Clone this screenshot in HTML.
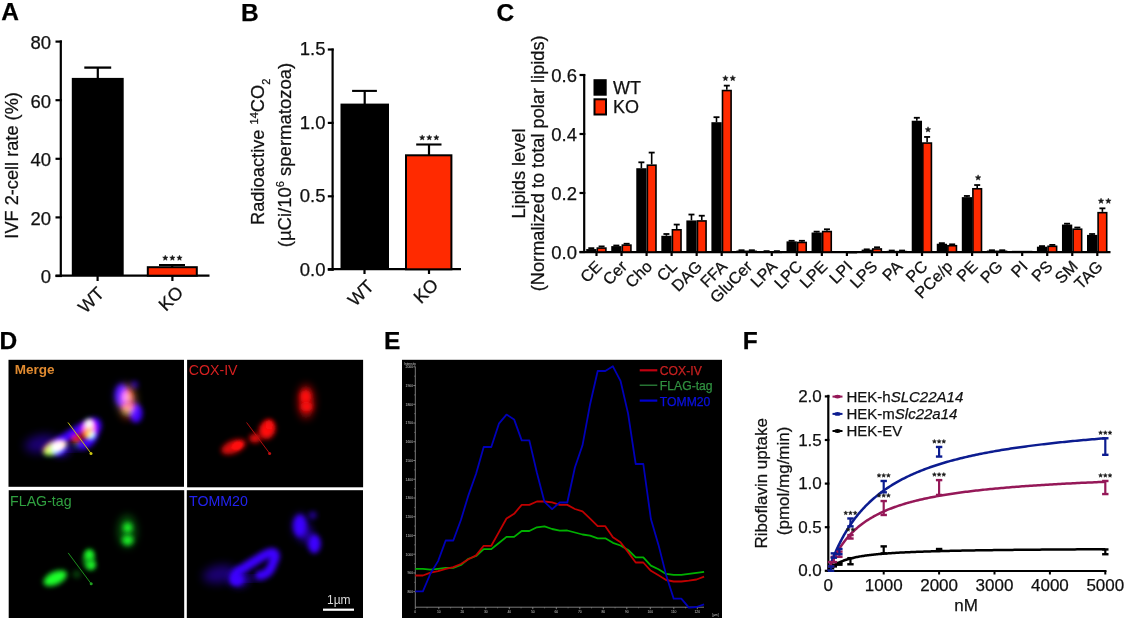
<!DOCTYPE html>
<html><head><meta charset="utf-8"><style>
html,body{margin:0;padding:0;background:#fff;width:1124px;height:618px;overflow:hidden}
svg{display:block;font-family:"Liberation Sans", sans-serif}
</style></head><body>
<svg width="1124" height="618" viewBox="0 0 1124 618">
<text x="1.3" y="20.3" font-size="24.5" text-anchor="start" font-weight="bold" fill="#000" stroke="#000" stroke-width="0.25">A</text>
<line x1="60.8" y1="40.4" x2="60.8" y2="276.8" stroke="#000" stroke-width="2.2" stroke-linecap="butt"/>
<line x1="55.5" y1="276.0" x2="61.9" y2="276.0" stroke="#000" stroke-width="2.2" stroke-linecap="butt"/>
<text x="51" y="283.4" font-size="18.5" text-anchor="end" font-weight="normal" fill="#111" stroke="#111" stroke-width="0.25">0</text>
<line x1="55.5" y1="217.4" x2="61.9" y2="217.4" stroke="#000" stroke-width="2.2" stroke-linecap="butt"/>
<text x="51" y="224.8" font-size="18.5" text-anchor="end" font-weight="normal" fill="#111" stroke="#111" stroke-width="0.25">20</text>
<line x1="55.5" y1="158.8" x2="61.9" y2="158.8" stroke="#000" stroke-width="2.2" stroke-linecap="butt"/>
<text x="51" y="166.20000000000002" font-size="18.5" text-anchor="end" font-weight="normal" fill="#111" stroke="#111" stroke-width="0.25">40</text>
<line x1="55.5" y1="100.19999999999999" x2="61.9" y2="100.19999999999999" stroke="#000" stroke-width="2.2" stroke-linecap="butt"/>
<text x="51" y="107.6" font-size="18.5" text-anchor="end" font-weight="normal" fill="#111" stroke="#111" stroke-width="0.25">60</text>
<line x1="55.5" y1="41.599999999999994" x2="61.9" y2="41.599999999999994" stroke="#000" stroke-width="2.2" stroke-linecap="butt"/>
<text x="51" y="48.99999999999999" font-size="18.5" text-anchor="end" font-weight="normal" fill="#111" stroke="#111" stroke-width="0.25">80</text>
<line x1="55.5" y1="275.6" x2="209.5" y2="275.6" stroke="#000" stroke-width="2.2" stroke-linecap="butt"/>
<rect x="71.8" y="77.9" width="51.9" height="198.1" fill="#000"/>
<line x1="97.8" y1="67.6" x2="97.8" y2="78.9" stroke="#000" stroke-width="2.2" stroke-linecap="butt"/>
<line x1="84.3" y1="67.6" x2="111.2" y2="67.6" stroke="#000" stroke-width="2.3" stroke-linecap="butt"/>
<rect x="147.8" y="267.2" width="49" height="8.5" fill="#ff2a00" stroke="#000" stroke-width="2"/>
<line x1="172.2" y1="265" x2="172.2" y2="267" stroke="#000" stroke-width="2.2" stroke-linecap="butt"/>
<line x1="159" y1="265" x2="185" y2="265" stroke="#000" stroke-width="2.0" stroke-linecap="butt"/>
<polygon points="165.30,255.20 166.04,256.98 167.96,257.13 166.50,258.39 166.95,260.27 165.30,259.26 163.65,260.27 164.10,258.39 162.64,257.13 164.56,256.98" fill="#1a1a1a" stroke="#1a1a1a" stroke-width="0.5" stroke-linejoin="round"/>
<polygon points="172.40,255.20 173.14,256.98 175.06,257.13 173.60,258.39 174.05,260.27 172.40,259.26 170.75,260.27 171.20,258.39 169.74,257.13 171.66,256.98" fill="#1a1a1a" stroke="#1a1a1a" stroke-width="0.5" stroke-linejoin="round"/>
<polygon points="179.50,255.20 180.24,256.98 182.16,257.13 180.70,258.39 181.15,260.27 179.50,259.26 177.85,260.27 178.30,258.39 176.84,257.13 178.76,256.98" fill="#1a1a1a" stroke="#1a1a1a" stroke-width="0.5" stroke-linejoin="round"/>
<line x1="97.6" y1="275.6" x2="97.6" y2="281" stroke="#000" stroke-width="2.2" stroke-linecap="butt"/>
<line x1="172.4" y1="275.6" x2="172.4" y2="281" stroke="#000" stroke-width="2.2" stroke-linecap="butt"/>
<text x="105.3" y="294.5" font-size="18" text-anchor="end" font-weight="normal" fill="#111" transform="rotate(-45 105.3 294.5)" stroke="#111" stroke-width="0.25">WT</text>
<text x="184.5" y="293.5" font-size="18" text-anchor="end" font-weight="normal" fill="#111" transform="rotate(-45 184.5 293.5)" stroke="#111" stroke-width="0.25">KO</text>
<text x="18.4" y="165.4" font-size="18.2" text-anchor="middle" font-weight="normal" fill="#111" transform="rotate(-90 18.4 165.4)" stroke="#111" stroke-width="0.25">IVF 2-cell rate (%)</text>
<text x="241.0" y="20.6" font-size="24.5" text-anchor="start" font-weight="bold" fill="#000" stroke="#000" stroke-width="0.25">B</text>
<line x1="332.6" y1="48.6" x2="332.6" y2="270.5" stroke="#000" stroke-width="2.2" stroke-linecap="butt"/>
<line x1="327.8" y1="269.7" x2="333.70000000000005" y2="269.7" stroke="#000" stroke-width="2.2" stroke-linecap="butt"/>
<text x="325.5" y="275.5" font-size="18.5" text-anchor="end" font-weight="normal" fill="#111" stroke="#111" stroke-width="0.25">0.0</text>
<line x1="327.8" y1="196.29999999999998" x2="333.70000000000005" y2="196.29999999999998" stroke="#000" stroke-width="2.2" stroke-linecap="butt"/>
<text x="325.5" y="202.1" font-size="18.5" text-anchor="end" font-weight="normal" fill="#111" stroke="#111" stroke-width="0.25">0.5</text>
<line x1="327.8" y1="122.89999999999998" x2="333.70000000000005" y2="122.89999999999998" stroke="#000" stroke-width="2.2" stroke-linecap="butt"/>
<text x="325.5" y="128.7" font-size="18.5" text-anchor="end" font-weight="normal" fill="#111" stroke="#111" stroke-width="0.25">1.0</text>
<line x1="327.8" y1="49.49999999999997" x2="333.70000000000005" y2="49.49999999999997" stroke="#000" stroke-width="2.2" stroke-linecap="butt"/>
<text x="325.5" y="55.29999999999997" font-size="18.5" text-anchor="end" font-weight="normal" fill="#111" stroke="#111" stroke-width="0.25">1.5</text>
<line x1="327.8" y1="269.2" x2="461" y2="269.2" stroke="#000" stroke-width="2.2" stroke-linecap="butt"/>
<rect x="340.5" y="103.6" width="48.5" height="166.1" fill="#000"/>
<line x1="364.7" y1="90.9" x2="364.7" y2="104.6" stroke="#000" stroke-width="2.2" stroke-linecap="butt"/>
<line x1="352.1" y1="90.9" x2="376.9" y2="90.9" stroke="#000" stroke-width="2.1" stroke-linecap="butt"/>
<rect x="406" y="155.3" width="45.4" height="114" fill="#ff2a00" stroke="#000" stroke-width="2"/>
<line x1="429" y1="144.5" x2="429" y2="155" stroke="#000" stroke-width="2.2" stroke-linecap="butt"/>
<line x1="416.2" y1="144.5" x2="441.5" y2="144.5" stroke="#000" stroke-width="2.1" stroke-linecap="butt"/>
<polygon points="422.20,134.90 422.94,136.68 424.86,136.83 423.40,138.09 423.85,139.97 422.20,138.96 420.55,139.97 421.00,138.09 419.54,136.83 421.46,136.68" fill="#1a1a1a" stroke="#1a1a1a" stroke-width="0.5" stroke-linejoin="round"/>
<polygon points="429.30,134.90 430.04,136.68 431.96,136.83 430.50,138.09 430.95,139.97 429.30,138.96 427.65,139.97 428.10,138.09 426.64,136.83 428.56,136.68" fill="#1a1a1a" stroke="#1a1a1a" stroke-width="0.5" stroke-linejoin="round"/>
<polygon points="436.40,134.90 437.14,136.68 439.06,136.83 437.60,138.09 438.05,139.97 436.40,138.96 434.75,139.97 435.20,138.09 433.74,136.83 435.66,136.68" fill="#1a1a1a" stroke="#1a1a1a" stroke-width="0.5" stroke-linejoin="round"/>
<line x1="364.5" y1="269.2" x2="364.5" y2="274" stroke="#000" stroke-width="2.2" stroke-linecap="butt"/>
<line x1="429" y1="269.2" x2="429" y2="274" stroke="#000" stroke-width="2.2" stroke-linecap="butt"/>
<text x="375" y="287.5" font-size="18" text-anchor="end" font-weight="normal" fill="#111" transform="rotate(-45 375 287.5)" stroke="#111" stroke-width="0.25">WT</text>
<text x="439.5" y="286" font-size="18" text-anchor="end" font-weight="normal" fill="#111" transform="rotate(-45 439.5 286)" stroke="#111" stroke-width="0.25">KO</text>
<text x="263.8" y="151.8" font-size="18.3" text-anchor="middle" fill="#111" stroke="#111" stroke-width="0.25" transform="rotate(-90 263.8 151.8)">Radioactive <tspan font-size="11" dy="-6">14</tspan><tspan dy="6">CO</tspan><tspan font-size="11" dy="6">2</tspan></text>
<text x="290.5" y="155" font-size="18.5" text-anchor="middle" fill="#111" stroke="#111" stroke-width="0.25" transform="rotate(-90 290.5 155)">(µCi/10<tspan font-size="11" dy="-7">6</tspan><tspan dy="7"> spermatozoa)</tspan></text>
<text x="496.6" y="20.6" font-size="24.5" text-anchor="start" font-weight="bold" fill="#000" stroke="#000" stroke-width="0.25">C</text>
<line x1="584.2" y1="74.2" x2="584.2" y2="252.8" stroke="#000" stroke-width="2.2" stroke-linecap="butt"/>
<line x1="579.5" y1="252.0" x2="585.3000000000001" y2="252.0" stroke="#000" stroke-width="2.2" stroke-linecap="butt"/>
<text x="577.0" y="258.7" font-size="18.5" text-anchor="end" font-weight="normal" fill="#111" stroke="#111" stroke-width="0.25">0.0</text>
<line x1="579.5" y1="193.0" x2="585.3000000000001" y2="193.0" stroke="#000" stroke-width="2.2" stroke-linecap="butt"/>
<text x="577.0" y="199.7" font-size="18.5" text-anchor="end" font-weight="normal" fill="#111" stroke="#111" stroke-width="0.25">0.2</text>
<line x1="579.5" y1="134.0" x2="585.3000000000001" y2="134.0" stroke="#000" stroke-width="2.2" stroke-linecap="butt"/>
<text x="577.0" y="140.7" font-size="18.5" text-anchor="end" font-weight="normal" fill="#111" stroke="#111" stroke-width="0.25">0.4</text>
<line x1="579.5" y1="75.0" x2="585.3000000000001" y2="75.0" stroke="#000" stroke-width="2.2" stroke-linecap="butt"/>
<text x="577.0" y="81.7" font-size="18.5" text-anchor="end" font-weight="normal" fill="#111" stroke="#111" stroke-width="0.25">0.6</text>
<line x1="579.5" y1="252.1" x2="1110.5" y2="252.1" stroke="#000" stroke-width="2.2" stroke-linecap="butt"/>
<rect x="586.2" y="249.05" width="10.3" height="2.95" fill="#000"/>
<line x1="591.3" y1="248.16500000000002" x2="591.3" y2="249.05" stroke="#000" stroke-width="1.6" stroke-linecap="butt"/>
<line x1="588.3" y1="248.16500000000002" x2="594.3" y2="248.16500000000002" stroke="#000" stroke-width="1.8" stroke-linecap="butt"/>
<rect x="597.3" y="248.08" width="8.6" height="3.92" fill="#ff2a00" stroke="#000" stroke-width="1.6"/>
<line x1="601.6" y1="246.395" x2="601.6" y2="247.28" stroke="#000" stroke-width="1.6" stroke-linecap="butt"/>
<line x1="598.6" y1="246.395" x2="604.6" y2="246.395" stroke="#000" stroke-width="1.8" stroke-linecap="butt"/>
<line x1="596.5" y1="252.1" x2="596.5" y2="256" stroke="#000" stroke-width="2.2" stroke-linecap="butt"/>
<text x="603.0" y="267.5" font-size="16.3" text-anchor="end" font-weight="normal" fill="#111" transform="rotate(-45 603.0 267.5)" stroke="#111" stroke-width="0.25">CE</text>
<rect x="611.24" y="246.1" width="10.3" height="5.9" fill="#000"/>
<line x1="616.3399999999999" y1="245.51" x2="616.3399999999999" y2="246.1" stroke="#000" stroke-width="1.6" stroke-linecap="butt"/>
<line x1="613.3399999999999" y1="245.51" x2="619.3399999999999" y2="245.51" stroke="#000" stroke-width="1.8" stroke-linecap="butt"/>
<rect x="622.3399999999999" y="245.13000000000002" width="8.6" height="6.87" fill="#ff2a00" stroke="#000" stroke-width="1.6"/>
<line x1="626.64" y1="243.74" x2="626.64" y2="244.33" stroke="#000" stroke-width="1.6" stroke-linecap="butt"/>
<line x1="623.64" y1="243.74" x2="629.64" y2="243.74" stroke="#000" stroke-width="1.8" stroke-linecap="butt"/>
<line x1="621.54" y1="252.1" x2="621.54" y2="256" stroke="#000" stroke-width="2.2" stroke-linecap="butt"/>
<text x="628.04" y="267.5" font-size="16.3" text-anchor="end" font-weight="normal" fill="#111" transform="rotate(-45 628.04 267.5)" stroke="#111" stroke-width="0.25">Cer</text>
<rect x="636.2800000000001" y="168.22000000000003" width="10.3" height="83.77999999999999" fill="#000"/>
<line x1="641.38" y1="162.32000000000002" x2="641.38" y2="168.22000000000003" stroke="#000" stroke-width="1.6" stroke-linecap="butt"/>
<line x1="638.38" y1="162.32000000000002" x2="644.38" y2="162.32000000000002" stroke="#000" stroke-width="1.8" stroke-linecap="butt"/>
<rect x="647.38" y="165.185" width="8.6" height="86.815" fill="#ff2a00" stroke="#000" stroke-width="1.6"/>
<line x1="651.6800000000001" y1="152.58499999999998" x2="651.6800000000001" y2="164.385" stroke="#000" stroke-width="1.6" stroke-linecap="butt"/>
<line x1="648.6800000000001" y1="152.58499999999998" x2="654.6800000000001" y2="152.58499999999998" stroke="#000" stroke-width="1.8" stroke-linecap="butt"/>
<line x1="646.58" y1="252.1" x2="646.58" y2="256" stroke="#000" stroke-width="2.2" stroke-linecap="butt"/>
<text x="653.08" y="267.5" font-size="16.3" text-anchor="end" font-weight="normal" fill="#111" transform="rotate(-45 653.08 267.5)" stroke="#111" stroke-width="0.25">Cho</text>
<rect x="661.32" y="235.775" width="10.3" height="16.225" fill="#000"/>
<line x1="666.42" y1="234.005" x2="666.42" y2="235.775" stroke="#000" stroke-width="1.6" stroke-linecap="butt"/>
<line x1="663.42" y1="234.005" x2="669.42" y2="234.005" stroke="#000" stroke-width="1.8" stroke-linecap="butt"/>
<rect x="672.42" y="229.79000000000002" width="8.6" height="22.21" fill="#ff2a00" stroke="#000" stroke-width="1.6"/>
<line x1="676.72" y1="224.565" x2="676.72" y2="228.99" stroke="#000" stroke-width="1.6" stroke-linecap="butt"/>
<line x1="673.72" y1="224.565" x2="679.72" y2="224.565" stroke="#000" stroke-width="1.8" stroke-linecap="butt"/>
<line x1="671.62" y1="252.1" x2="671.62" y2="256" stroke="#000" stroke-width="2.2" stroke-linecap="butt"/>
<text x="678.12" y="267.5" font-size="16.3" text-anchor="end" font-weight="normal" fill="#111" transform="rotate(-45 678.12 267.5)" stroke="#111" stroke-width="0.25">CL</text>
<rect x="686.36" y="220.435" width="10.3" height="31.564999999999998" fill="#000"/>
<line x1="691.4599999999999" y1="214.535" x2="691.4599999999999" y2="220.435" stroke="#000" stroke-width="1.6" stroke-linecap="butt"/>
<line x1="688.4599999999999" y1="214.535" x2="694.4599999999999" y2="214.535" stroke="#000" stroke-width="1.8" stroke-linecap="butt"/>
<rect x="697.4599999999999" y="220.94" width="8.6" height="31.06" fill="#ff2a00" stroke="#000" stroke-width="1.6"/>
<line x1="701.76" y1="215.71499999999997" x2="701.76" y2="220.14" stroke="#000" stroke-width="1.6" stroke-linecap="butt"/>
<line x1="698.76" y1="215.71499999999997" x2="704.76" y2="215.71499999999997" stroke="#000" stroke-width="1.8" stroke-linecap="butt"/>
<line x1="696.66" y1="252.1" x2="696.66" y2="256" stroke="#000" stroke-width="2.2" stroke-linecap="butt"/>
<text x="703.16" y="267.5" font-size="16.3" text-anchor="end" font-weight="normal" fill="#111" transform="rotate(-45 703.16 267.5)" stroke="#111" stroke-width="0.25">DAG</text>
<rect x="711.4000000000001" y="122.19999999999999" width="10.3" height="129.8" fill="#000"/>
<line x1="716.5" y1="117.18499999999999" x2="716.5" y2="122.19999999999999" stroke="#000" stroke-width="1.6" stroke-linecap="butt"/>
<line x1="713.5" y1="117.18499999999999" x2="719.5" y2="117.18499999999999" stroke="#000" stroke-width="1.8" stroke-linecap="butt"/>
<rect x="722.5" y="90.55" width="8.6" height="161.45" fill="#ff2a00" stroke="#000" stroke-width="1.6"/>
<line x1="726.8000000000001" y1="85.62" x2="726.8000000000001" y2="89.75" stroke="#000" stroke-width="1.6" stroke-linecap="butt"/>
<line x1="723.8000000000001" y1="85.62" x2="729.8000000000001" y2="85.62" stroke="#000" stroke-width="1.8" stroke-linecap="butt"/>
<polygon points="725.45,75.42 726.22,77.26 728.21,77.42 726.69,78.72 727.15,80.67 725.45,79.63 723.75,80.67 724.21,78.72 722.69,77.42 724.68,77.26" fill="#1a1a1a" stroke="#1a1a1a" stroke-width="0.5" stroke-linejoin="round"/>
<polygon points="732.75,75.42 733.52,77.26 735.51,77.42 733.99,78.72 734.45,80.67 732.75,79.63 731.05,80.67 731.51,78.72 729.99,77.42 731.98,77.26" fill="#1a1a1a" stroke="#1a1a1a" stroke-width="0.5" stroke-linejoin="round"/>
<line x1="721.7" y1="252.1" x2="721.7" y2="256" stroke="#000" stroke-width="2.2" stroke-linecap="butt"/>
<text x="728.2" y="267.5" font-size="16.3" text-anchor="end" font-weight="normal" fill="#111" transform="rotate(-45 728.2 267.5)" stroke="#111" stroke-width="0.25">FFA</text>
<rect x="736.44" y="250.525" width="10.3" height="1.475" fill="#000"/>
<line x1="741.54" y1="250.23000000000002" x2="741.54" y2="250.525" stroke="#000" stroke-width="1.6" stroke-linecap="butt"/>
<line x1="738.54" y1="250.23000000000002" x2="744.54" y2="250.23000000000002" stroke="#000" stroke-width="1.8" stroke-linecap="butt"/>
<rect x="747.54" y="251.32500000000002" width="8.6" height="0.675" fill="#ff2a00" stroke="#000" stroke-width="1.6"/>
<line x1="751.84" y1="250.23000000000002" x2="751.84" y2="250.525" stroke="#000" stroke-width="1.6" stroke-linecap="butt"/>
<line x1="748.84" y1="250.23000000000002" x2="754.84" y2="250.23000000000002" stroke="#000" stroke-width="1.8" stroke-linecap="butt"/>
<line x1="746.74" y1="252.1" x2="746.74" y2="256" stroke="#000" stroke-width="2.2" stroke-linecap="butt"/>
<text x="753.24" y="267.5" font-size="16.3" text-anchor="end" font-weight="normal" fill="#111" transform="rotate(-45 753.24 267.5)" stroke="#111" stroke-width="0.25">GluCer</text>
<rect x="761.48" y="251.41" width="10.3" height="0.59" fill="#000"/>
<line x1="766.5799999999999" y1="251.115" x2="766.5799999999999" y2="251.41" stroke="#000" stroke-width="1.6" stroke-linecap="butt"/>
<line x1="763.5799999999999" y1="251.115" x2="769.5799999999999" y2="251.115" stroke="#000" stroke-width="1.8" stroke-linecap="butt"/>
<rect x="772.5799999999999" y="252.21" width="8.6" height="0.1" fill="#ff2a00" stroke="#000" stroke-width="1.6"/>
<line x1="776.88" y1="251.115" x2="776.88" y2="251.41" stroke="#000" stroke-width="1.6" stroke-linecap="butt"/>
<line x1="773.88" y1="251.115" x2="779.88" y2="251.115" stroke="#000" stroke-width="1.8" stroke-linecap="butt"/>
<line x1="771.78" y1="252.1" x2="771.78" y2="256" stroke="#000" stroke-width="2.2" stroke-linecap="butt"/>
<text x="778.28" y="267.5" font-size="16.3" text-anchor="end" font-weight="normal" fill="#111" transform="rotate(-45 778.28 267.5)" stroke="#111" stroke-width="0.25">LPA</text>
<rect x="786.52" y="241.38" width="10.3" height="10.62" fill="#000"/>
<line x1="791.6199999999999" y1="240.79" x2="791.6199999999999" y2="241.38" stroke="#000" stroke-width="1.6" stroke-linecap="butt"/>
<line x1="788.6199999999999" y1="240.79" x2="794.6199999999999" y2="240.79" stroke="#000" stroke-width="1.8" stroke-linecap="butt"/>
<rect x="797.6199999999999" y="242.47500000000002" width="8.6" height="9.525" fill="#ff2a00" stroke="#000" stroke-width="1.6"/>
<line x1="801.92" y1="240.79000000000002" x2="801.92" y2="241.675" stroke="#000" stroke-width="1.6" stroke-linecap="butt"/>
<line x1="798.92" y1="240.79000000000002" x2="804.92" y2="240.79000000000002" stroke="#000" stroke-width="1.8" stroke-linecap="butt"/>
<line x1="796.8199999999999" y1="252.1" x2="796.8199999999999" y2="256" stroke="#000" stroke-width="2.2" stroke-linecap="butt"/>
<text x="803.3199999999999" y="267.5" font-size="16.3" text-anchor="end" font-weight="normal" fill="#111" transform="rotate(-45 803.3199999999999 267.5)" stroke="#111" stroke-width="0.25">LPC</text>
<rect x="811.5600000000001" y="232.53" width="10.3" height="19.470000000000002" fill="#000"/>
<line x1="816.66" y1="231.645" x2="816.66" y2="232.53" stroke="#000" stroke-width="1.6" stroke-linecap="butt"/>
<line x1="813.66" y1="231.645" x2="819.66" y2="231.645" stroke="#000" stroke-width="1.8" stroke-linecap="butt"/>
<rect x="822.66" y="231.56" width="8.6" height="20.439999999999998" fill="#ff2a00" stroke="#000" stroke-width="1.6"/>
<line x1="826.96" y1="229.285" x2="826.96" y2="230.76" stroke="#000" stroke-width="1.6" stroke-linecap="butt"/>
<line x1="823.96" y1="229.285" x2="829.96" y2="229.285" stroke="#000" stroke-width="1.8" stroke-linecap="butt"/>
<line x1="821.86" y1="252.1" x2="821.86" y2="256" stroke="#000" stroke-width="2.2" stroke-linecap="butt"/>
<text x="828.36" y="267.5" font-size="16.3" text-anchor="end" font-weight="normal" fill="#111" transform="rotate(-45 828.36 267.5)" stroke="#111" stroke-width="0.25">LPE</text>
<rect x="836.6" y="251.705" width="10.3" height="0.295" fill="#000"/>
<rect x="847.6999999999999" y="252.50500000000002" width="8.6" height="0.1" fill="#ff2a00" stroke="#000" stroke-width="1.6"/>
<line x1="846.9" y1="252.1" x2="846.9" y2="256" stroke="#000" stroke-width="2.2" stroke-linecap="butt"/>
<text x="853.4" y="267.5" font-size="16.3" text-anchor="end" font-weight="normal" fill="#111" transform="rotate(-45 853.4 267.5)" stroke="#111" stroke-width="0.25">LPI</text>
<rect x="861.6400000000001" y="249.64" width="10.3" height="2.36" fill="#000"/>
<line x1="866.74" y1="249.345" x2="866.74" y2="249.64" stroke="#000" stroke-width="1.6" stroke-linecap="butt"/>
<line x1="863.74" y1="249.345" x2="869.74" y2="249.345" stroke="#000" stroke-width="1.8" stroke-linecap="butt"/>
<rect x="872.74" y="248.965" width="8.6" height="3.035" fill="#ff2a00" stroke="#000" stroke-width="1.6"/>
<line x1="877.0400000000001" y1="247.28" x2="877.0400000000001" y2="248.165" stroke="#000" stroke-width="1.6" stroke-linecap="butt"/>
<line x1="874.0400000000001" y1="247.28" x2="880.0400000000001" y2="247.28" stroke="#000" stroke-width="1.8" stroke-linecap="butt"/>
<line x1="871.94" y1="252.1" x2="871.94" y2="256" stroke="#000" stroke-width="2.2" stroke-linecap="butt"/>
<text x="878.44" y="267.5" font-size="16.3" text-anchor="end" font-weight="normal" fill="#111" transform="rotate(-45 878.44 267.5)" stroke="#111" stroke-width="0.25">LPS</text>
<rect x="886.6800000000001" y="250.82" width="10.3" height="1.18" fill="#000"/>
<line x1="891.78" y1="250.525" x2="891.78" y2="250.82" stroke="#000" stroke-width="1.6" stroke-linecap="butt"/>
<line x1="888.78" y1="250.525" x2="894.78" y2="250.525" stroke="#000" stroke-width="1.8" stroke-linecap="butt"/>
<rect x="897.78" y="251.62" width="8.6" height="0.3799999999999999" fill="#ff2a00" stroke="#000" stroke-width="1.6"/>
<line x1="902.08" y1="250.525" x2="902.08" y2="250.82" stroke="#000" stroke-width="1.6" stroke-linecap="butt"/>
<line x1="899.08" y1="250.525" x2="905.08" y2="250.525" stroke="#000" stroke-width="1.8" stroke-linecap="butt"/>
<line x1="896.98" y1="252.1" x2="896.98" y2="256" stroke="#000" stroke-width="2.2" stroke-linecap="butt"/>
<text x="903.48" y="267.5" font-size="16.3" text-anchor="end" font-weight="normal" fill="#111" transform="rotate(-45 903.48 267.5)" stroke="#111" stroke-width="0.25">PA</text>
<rect x="911.72" y="120.725" width="10.3" height="131.275" fill="#000"/>
<line x1="916.8199999999999" y1="117.77499999999999" x2="916.8199999999999" y2="120.725" stroke="#000" stroke-width="1.6" stroke-linecap="butt"/>
<line x1="913.8199999999999" y1="117.77499999999999" x2="919.8199999999999" y2="117.77499999999999" stroke="#000" stroke-width="1.8" stroke-linecap="butt"/>
<rect x="922.8199999999999" y="143.06" width="8.6" height="108.94" fill="#ff2a00" stroke="#000" stroke-width="1.6"/>
<line x1="927.12" y1="136.95" x2="927.12" y2="142.26" stroke="#000" stroke-width="1.6" stroke-linecap="butt"/>
<line x1="924.12" y1="136.95" x2="930.12" y2="136.95" stroke="#000" stroke-width="1.8" stroke-linecap="butt"/>
<polygon points="928.02,126.75 928.79,128.59 930.78,128.75 929.26,130.05 929.72,132.00 928.02,130.95 926.32,132.00 926.78,130.05 925.26,128.75 927.25,128.59" fill="#1a1a1a" stroke="#1a1a1a" stroke-width="0.5" stroke-linejoin="round"/>
<line x1="922.02" y1="252.1" x2="922.02" y2="256" stroke="#000" stroke-width="2.2" stroke-linecap="butt"/>
<text x="928.52" y="267.5" font-size="16.3" text-anchor="end" font-weight="normal" fill="#111" transform="rotate(-45 928.52 267.5)" stroke="#111" stroke-width="0.25">PC</text>
<rect x="936.76" y="243.74" width="10.3" height="8.26" fill="#000"/>
<line x1="941.8599999999999" y1="243.15" x2="941.8599999999999" y2="243.74" stroke="#000" stroke-width="1.6" stroke-linecap="butt"/>
<line x1="938.8599999999999" y1="243.15" x2="944.8599999999999" y2="243.15" stroke="#000" stroke-width="1.8" stroke-linecap="butt"/>
<rect x="947.8599999999999" y="245.72" width="8.6" height="6.28" fill="#ff2a00" stroke="#000" stroke-width="1.6"/>
<line x1="952.16" y1="244.32999999999998" x2="952.16" y2="244.92" stroke="#000" stroke-width="1.6" stroke-linecap="butt"/>
<line x1="949.16" y1="244.32999999999998" x2="955.16" y2="244.32999999999998" stroke="#000" stroke-width="1.8" stroke-linecap="butt"/>
<line x1="947.06" y1="252.1" x2="947.06" y2="256" stroke="#000" stroke-width="2.2" stroke-linecap="butt"/>
<text x="953.56" y="267.5" font-size="16.3" text-anchor="end" font-weight="normal" fill="#111" transform="rotate(-45 953.56 267.5)" stroke="#111" stroke-width="0.25">PCe/p</text>
<rect x="961.8" y="197.13" width="10.3" height="54.87" fill="#000"/>
<line x1="966.8999999999999" y1="195.95" x2="966.8999999999999" y2="197.13" stroke="#000" stroke-width="1.6" stroke-linecap="butt"/>
<line x1="963.8999999999999" y1="195.95" x2="969.8999999999999" y2="195.95" stroke="#000" stroke-width="1.8" stroke-linecap="butt"/>
<rect x="972.8999999999999" y="188.78500000000003" width="8.6" height="63.215" fill="#ff2a00" stroke="#000" stroke-width="1.6"/>
<line x1="977.1999999999999" y1="185.03500000000003" x2="977.1999999999999" y2="187.985" stroke="#000" stroke-width="1.6" stroke-linecap="butt"/>
<line x1="974.1999999999999" y1="185.03500000000003" x2="980.1999999999999" y2="185.03500000000003" stroke="#000" stroke-width="1.8" stroke-linecap="butt"/>
<polygon points="978.10,174.84 978.87,176.68 980.86,176.84 979.34,178.14 979.80,180.08 978.10,179.04 976.40,180.08 976.86,178.14 975.34,176.84 977.33,176.68" fill="#1a1a1a" stroke="#1a1a1a" stroke-width="0.5" stroke-linejoin="round"/>
<line x1="972.0999999999999" y1="252.1" x2="972.0999999999999" y2="256" stroke="#000" stroke-width="2.2" stroke-linecap="butt"/>
<text x="978.5999999999999" y="267.5" font-size="16.3" text-anchor="end" font-weight="normal" fill="#111" transform="rotate(-45 978.5999999999999 267.5)" stroke="#111" stroke-width="0.25">PE</text>
<rect x="986.84" y="250.525" width="10.3" height="1.475" fill="#000"/>
<line x1="991.9399999999999" y1="250.23000000000002" x2="991.9399999999999" y2="250.525" stroke="#000" stroke-width="1.6" stroke-linecap="butt"/>
<line x1="988.9399999999999" y1="250.23000000000002" x2="994.9399999999999" y2="250.23000000000002" stroke="#000" stroke-width="1.8" stroke-linecap="butt"/>
<rect x="997.9399999999999" y="251.32500000000002" width="8.6" height="0.675" fill="#ff2a00" stroke="#000" stroke-width="1.6"/>
<line x1="1002.24" y1="250.23000000000002" x2="1002.24" y2="250.525" stroke="#000" stroke-width="1.6" stroke-linecap="butt"/>
<line x1="999.24" y1="250.23000000000002" x2="1005.24" y2="250.23000000000002" stroke="#000" stroke-width="1.8" stroke-linecap="butt"/>
<line x1="997.14" y1="252.1" x2="997.14" y2="256" stroke="#000" stroke-width="2.2" stroke-linecap="butt"/>
<text x="1003.64" y="267.5" font-size="16.3" text-anchor="end" font-weight="normal" fill="#111" transform="rotate(-45 1003.64 267.5)" stroke="#111" stroke-width="0.25">PG</text>
<rect x="1011.8800000000001" y="250.82" width="10.3" height="1.18" fill="#000"/>
<rect x="1022.98" y="251.62" width="8.6" height="0.3799999999999999" fill="#ff2a00" stroke="#000" stroke-width="1.6"/>
<line x1="1022.1800000000001" y1="252.1" x2="1022.1800000000001" y2="256" stroke="#000" stroke-width="2.2" stroke-linecap="butt"/>
<text x="1028.68" y="267.5" font-size="16.3" text-anchor="end" font-weight="normal" fill="#111" transform="rotate(-45 1028.68 267.5)" stroke="#111" stroke-width="0.25">PI</text>
<rect x="1036.92" y="246.69" width="10.3" height="5.31" fill="#000"/>
<line x1="1042.02" y1="246.1" x2="1042.02" y2="246.69" stroke="#000" stroke-width="1.6" stroke-linecap="butt"/>
<line x1="1039.02" y1="246.1" x2="1045.02" y2="246.1" stroke="#000" stroke-width="1.8" stroke-linecap="butt"/>
<rect x="1048.02" y="246.31" width="8.6" height="5.6899999999999995" fill="#ff2a00" stroke="#000" stroke-width="1.6"/>
<line x1="1052.32" y1="244.92" x2="1052.32" y2="245.51" stroke="#000" stroke-width="1.6" stroke-linecap="butt"/>
<line x1="1049.32" y1="244.92" x2="1055.32" y2="244.92" stroke="#000" stroke-width="1.8" stroke-linecap="butt"/>
<line x1="1047.22" y1="252.1" x2="1047.22" y2="256" stroke="#000" stroke-width="2.2" stroke-linecap="butt"/>
<text x="1053.72" y="267.5" font-size="16.3" text-anchor="end" font-weight="normal" fill="#111" transform="rotate(-45 1053.72 267.5)" stroke="#111" stroke-width="0.25">PS</text>
<rect x="1061.96" y="224.565" width="10.3" height="27.435" fill="#000"/>
<line x1="1067.06" y1="223.68" x2="1067.06" y2="224.565" stroke="#000" stroke-width="1.6" stroke-linecap="butt"/>
<line x1="1064.06" y1="223.68" x2="1070.06" y2="223.68" stroke="#000" stroke-width="1.8" stroke-linecap="butt"/>
<rect x="1073.06" y="229.20000000000002" width="8.6" height="22.8" fill="#ff2a00" stroke="#000" stroke-width="1.6"/>
<line x1="1077.36" y1="227.51500000000001" x2="1077.36" y2="228.4" stroke="#000" stroke-width="1.6" stroke-linecap="butt"/>
<line x1="1074.36" y1="227.51500000000001" x2="1080.36" y2="227.51500000000001" stroke="#000" stroke-width="1.8" stroke-linecap="butt"/>
<line x1="1072.26" y1="252.1" x2="1072.26" y2="256" stroke="#000" stroke-width="2.2" stroke-linecap="butt"/>
<text x="1078.76" y="267.5" font-size="16.3" text-anchor="end" font-weight="normal" fill="#111" transform="rotate(-45 1078.76 267.5)" stroke="#111" stroke-width="0.25">SM</text>
<rect x="1087.0" y="234.89" width="10.3" height="17.11" fill="#000"/>
<line x1="1092.1" y1="234.005" x2="1092.1" y2="234.89" stroke="#000" stroke-width="1.6" stroke-linecap="butt"/>
<line x1="1089.1" y1="234.005" x2="1095.1" y2="234.005" stroke="#000" stroke-width="1.8" stroke-linecap="butt"/>
<rect x="1098.1" y="212.68" width="8.6" height="39.32000000000001" fill="#ff2a00" stroke="#000" stroke-width="1.6"/>
<line x1="1102.3999999999999" y1="208.34" x2="1102.3999999999999" y2="211.88" stroke="#000" stroke-width="1.6" stroke-linecap="butt"/>
<line x1="1099.3999999999999" y1="208.34" x2="1105.3999999999999" y2="208.34" stroke="#000" stroke-width="1.8" stroke-linecap="butt"/>
<polygon points="1101.05,198.14 1101.82,199.98 1103.81,200.14 1102.29,201.44 1102.75,203.39 1101.05,202.34 1099.35,203.39 1099.81,201.44 1098.29,200.14 1100.28,199.98" fill="#1a1a1a" stroke="#1a1a1a" stroke-width="0.5" stroke-linejoin="round"/>
<polygon points="1108.35,198.14 1109.12,199.98 1111.11,200.14 1109.59,201.44 1110.05,203.39 1108.35,202.34 1106.65,203.39 1107.11,201.44 1105.59,200.14 1107.58,199.98" fill="#1a1a1a" stroke="#1a1a1a" stroke-width="0.5" stroke-linejoin="round"/>
<line x1="1097.3" y1="252.1" x2="1097.3" y2="256" stroke="#000" stroke-width="2.2" stroke-linecap="butt"/>
<text x="1103.8" y="267.5" font-size="16.3" text-anchor="end" font-weight="normal" fill="#111" transform="rotate(-45 1103.8 267.5)" stroke="#111" stroke-width="0.25">TAG</text>
<rect x="593.5" y="79.2" width="13.2" height="16.5" fill="#000"/>
<rect x="594.5" y="99.3" width="11.5" height="15.2" fill="#ff2a00" stroke="#000" stroke-width="2"/>
<text x="613" y="93.5" font-size="18" text-anchor="start" font-weight="normal" fill="#111" stroke="#111" stroke-width="0.25">WT</text>
<text x="613" y="113" font-size="18" text-anchor="start" font-weight="normal" fill="#111" stroke="#111" stroke-width="0.25">KO</text>
<text x="524.8" y="173.5" font-size="18.2" text-anchor="middle" font-weight="normal" fill="#111" transform="rotate(-90 524.8 173.5)" stroke="#111" stroke-width="0.25">Lipids level</text>
<text x="544.2" y="163.3" font-size="18.2" text-anchor="middle" font-weight="normal" fill="#111" transform="rotate(-90 544.2 163.3)" stroke="#111" stroke-width="0.25">(Normalized to total polar lipids)</text>
<text x="-0.6" y="348.6" font-size="24.5" text-anchor="start" font-weight="bold" fill="#000" stroke="#000" stroke-width="0.25">D</text>
<defs><filter id="b1" x="-50%" y="-50%" width="200%" height="200%"><feGaussianBlur stdDeviation="1.2"/></filter><filter id="b2" x="-50%" y="-50%" width="200%" height="200%"><feGaussianBlur stdDeviation="2.6"/></filter><filter id="b3" x="-50%" y="-50%" width="200%" height="200%"><feGaussianBlur stdDeviation="4"/></filter><filter id="b4" x="-50%" y="-50%" width="200%" height="200%"><feGaussianBlur stdDeviation="5"/></filter><clipPath id="cpD"><rect x="0" y="0" width="176" height="128"/></clipPath></defs>
<g transform="translate(8.5 359.8)"><rect x="0" y="0" width="175.5" height="127" fill="#000"/><g clip-path="url(#cpD)"><g style="isolation:isolate"><g style="mix-blend-mode:screen"><ellipse cx="113" cy="35.5" rx="6.5" ry="11" fill="#3c00ff" opacity="1" filter="url(#b2)"/><ellipse cx="114" cy="36" rx="8" ry="13" fill="#3c00ff" opacity="0.4" filter="url(#b3)"/><ellipse cx="127.5" cy="53.5" rx="6.5" ry="9.5" fill="#3c00ff" filter="url(#b2)"/><ellipse cx="126" cy="25" rx="4" ry="4" fill="#3c00ff" opacity="0.55" filter="url(#b2)"/><ellipse cx="120" cy="45" rx="6" ry="8" fill="#3c00ff" opacity="0.6" filter="url(#b3)"/><path d="M 49 89 Q 46 83 55 79 L 76 66 Q 89 58 88.5 67 L 84 78 Q 80 85 73 85" fill="none" stroke="#3c00ff" stroke-width="9" stroke-linecap="round" filter="url(#b2)"/><path d="M 73 86 Q 62 91 51 90" fill="none" stroke="#3c00ff" stroke-width="6" opacity="0.4" stroke-linecap="round" filter="url(#b3)"/><ellipse cx="33" cy="84" rx="17" ry="9" fill="#3c00ff" opacity="0.45" transform="rotate(-10 33 84)" filter="url(#b4)"/><ellipse cx="52" cy="89" rx="9" ry="7" fill="#3c00ff" opacity="0.8" filter="url(#b3)"/><ellipse cx="50" cy="90" rx="6" ry="5" fill="#3c00ff" filter="url(#b2)"/></g><g style="mix-blend-mode:screen"><ellipse cx="119" cy="42" rx="8" ry="17" fill="#ff0a0a" opacity="0.65" filter="url(#b3)"/><ellipse cx="118.5" cy="37" rx="5.5" ry="7" fill="#ff0a0a" filter="url(#b2)"/><ellipse cx="119.5" cy="47" rx="6" ry="5" fill="#ff0a0a" filter="url(#b2)"/><ellipse cx="46.5" cy="87" rx="13" ry="6.5" fill="#ff0a0a" opacity="0.85" transform="rotate(-22 46.5 87)" filter="url(#b2)"/><ellipse cx="50" cy="86" rx="6" ry="4" fill="#ff0a0a" transform="rotate(-22 50 86)" filter="url(#b1)"/><ellipse cx="80" cy="70" rx="8" ry="9.5" fill="#ff0a0a" transform="rotate(25 80 70)" filter="url(#b2)"/><ellipse cx="82" cy="65" rx="4" ry="5" fill="#ff0a0a" filter="url(#b2)"/><ellipse cx="68" cy="78.5" rx="6" ry="4.5" fill="#ff0a0a" opacity="0.9" filter="url(#b2)"/></g><g style="mix-blend-mode:screen"><ellipse cx="118.5" cy="41" rx="9" ry="16" fill="#1aff2a" opacity="0.35" filter="url(#b3)"/><ellipse cx="119" cy="37.5" rx="4.5" ry="5" fill="#1aff2a" opacity="0.405" filter="url(#b2)"/><ellipse cx="119" cy="50" rx="5.5" ry="5" fill="#1aff2a" opacity="0.405" filter="url(#b2)"/><ellipse cx="46.5" cy="88" rx="12.5" ry="6.5" fill="#1aff2a" transform="rotate(-25 46.5 88)" filter="url(#b2)"/><ellipse cx="80.7" cy="64.5" rx="4.5" ry="5.5" fill="#1aff2a" filter="url(#b2)"/><ellipse cx="82.5" cy="75" rx="4.5" ry="4.5" fill="#1aff2a" filter="url(#b2)"/><ellipse cx="80" cy="70" rx="6" ry="9" fill="#1aff2a" opacity="0.5" filter="url(#b2)"/><ellipse cx="68" cy="84" rx="4" ry="4" fill="#1aff2a" opacity="0.25" filter="url(#b2)"/></g><line x1="59.5" y1="62.7" x2="82.5" y2="93.6" stroke="#c8c410" stroke-width="1.0"/><circle cx="82.5" cy="93.6" r="1.5" fill="#c8c410"/></g></g><text x="6.3" y="14.6" font-size="13.5" font-weight="bold" fill="#e08a30">Merge</text></g>
<g transform="translate(187.1 359.8)"><rect x="0" y="0" width="176" height="127.5" fill="#000"/><g clip-path="url(#cpD)"><ellipse cx="119" cy="42" rx="8" ry="17" fill="#ff0a0a" opacity="0.65" filter="url(#b3)"/><ellipse cx="118.5" cy="37" rx="5.5" ry="7" fill="#ff0a0a" filter="url(#b2)"/><ellipse cx="119.5" cy="47" rx="6" ry="5" fill="#ff0a0a" filter="url(#b2)"/><ellipse cx="46.5" cy="87" rx="13" ry="6.5" fill="#ff0a0a" opacity="0.85" transform="rotate(-22 46.5 87)" filter="url(#b2)"/><ellipse cx="50" cy="86" rx="6" ry="4" fill="#ff0a0a" transform="rotate(-22 50 86)" filter="url(#b1)"/><ellipse cx="80" cy="70" rx="8" ry="9.5" fill="#ff0a0a" transform="rotate(25 80 70)" filter="url(#b2)"/><ellipse cx="82" cy="65" rx="4" ry="5" fill="#ff0a0a" filter="url(#b2)"/><ellipse cx="68" cy="78.5" rx="6" ry="4.5" fill="#ff0a0a" opacity="0.9" filter="url(#b2)"/><line x1="59.5" y1="62.7" x2="82.5" y2="93.6" stroke="#c01010" stroke-width="0.9"/><circle cx="82.5" cy="93.6" r="1.5" fill="#c01010"/></g><text x="1.6" y="15.5" font-size="14.2" font-weight="normal" fill="#d42020">COX-IV</text></g>
<g transform="translate(8.7 490.2)"><rect x="0" y="0" width="175.5" height="128" fill="#000"/><g clip-path="url(#cpD)"><ellipse cx="118.5" cy="41" rx="9" ry="16" fill="#1aff2a" opacity="0.35" filter="url(#b3)"/><ellipse cx="119" cy="37.5" rx="4.5" ry="5" fill="#1aff2a" opacity="0.9" filter="url(#b2)"/><ellipse cx="119" cy="50" rx="5.5" ry="5" fill="#1aff2a" opacity="0.9" filter="url(#b2)"/><ellipse cx="46.5" cy="88" rx="12.5" ry="6.5" fill="#1aff2a" transform="rotate(-25 46.5 88)" filter="url(#b2)"/><ellipse cx="80.7" cy="64.5" rx="4.5" ry="5.5" fill="#1aff2a" filter="url(#b2)"/><ellipse cx="82.5" cy="75" rx="4.5" ry="4.5" fill="#1aff2a" filter="url(#b2)"/><ellipse cx="80" cy="70" rx="6" ry="9" fill="#1aff2a" opacity="0.5" filter="url(#b2)"/><ellipse cx="68" cy="84" rx="4" ry="4" fill="#1aff2a" opacity="0.25" filter="url(#b2)"/><line x1="59.5" y1="62.7" x2="82.5" y2="93.6" stroke="#20a020" stroke-width="0.9"/><circle cx="82.5" cy="93.6" r="1.5" fill="#20a020"/></g><text x="1.4" y="16" font-size="14.2" font-weight="normal" fill="#30a040">FLAG-tag</text></g>
<g transform="translate(186.8 490.2)"><rect x="0" y="0" width="176.2" height="128" fill="#000"/><g clip-path="url(#cpD)"><ellipse cx="113" cy="35.5" rx="6.5" ry="11" fill="#3c00ff" opacity="1" filter="url(#b2)"/><ellipse cx="114" cy="36" rx="8" ry="13" fill="#3c00ff" opacity="0.4" filter="url(#b3)"/><ellipse cx="127.5" cy="53.5" rx="6.5" ry="9.5" fill="#3c00ff" filter="url(#b2)"/><ellipse cx="126" cy="25" rx="4" ry="4" fill="#3c00ff" opacity="0.55" filter="url(#b2)"/><ellipse cx="120" cy="45" rx="6" ry="8" fill="#3c00ff" opacity="0.6" filter="url(#b3)"/><path d="M 49 89 Q 46 83 55 79 L 76 66 Q 89 58 88.5 67 L 84 78 Q 80 85 73 85" fill="none" stroke="#3c00ff" stroke-width="9" stroke-linecap="round" filter="url(#b2)"/><path d="M 73 86 Q 62 91 51 90" fill="none" stroke="#3c00ff" stroke-width="6" opacity="0.4" stroke-linecap="round" filter="url(#b3)"/><ellipse cx="33" cy="84" rx="17" ry="9" fill="#3c00ff" opacity="0.45" transform="rotate(-10 33 84)" filter="url(#b4)"/><ellipse cx="52" cy="89" rx="9" ry="7" fill="#3c00ff" opacity="0.8" filter="url(#b3)"/><ellipse cx="50" cy="90" rx="6" ry="5" fill="#3c00ff" filter="url(#b2)"/></g><text x="2.2" y="16" font-size="14.2" font-weight="normal" fill="#2222ee">TOMM20</text></g>
<text x="338.8" y="604.4" font-size="12" fill="#dcdcdc" text-anchor="middle">1µm</text>
<rect x="323" y="608.6" width="31" height="2.2" fill="#fff"/>
<text x="383.9" y="349" font-size="24.5" text-anchor="start" font-weight="bold" fill="#000" stroke="#000" stroke-width="0.25">E</text>
<rect x="402" y="359.8" width="320" height="258.2" fill="#000"/>
<line x1="415.3" y1="366.5" x2="415.3" y2="607.2" stroke="#999" stroke-width="0.8" stroke-linecap="butt"/>
<line x1="415.3" y1="607.2" x2="704" y2="607.2" stroke="#999" stroke-width="0.8" stroke-linecap="butt"/>
<line x1="413.3" y1="366.8" x2="415.3" y2="366.8" stroke="#999" stroke-width="0.8" stroke-linecap="butt"/>
<text x="413.1" y="368.1" font-size="3.4" fill="#ccc" text-anchor="end">2000</text>
<line x1="414.1" y1="376.17" x2="415.3" y2="376.17" stroke="#888" stroke-width="0.6" stroke-linecap="butt"/>
<line x1="413.3" y1="385.54" x2="415.3" y2="385.54" stroke="#999" stroke-width="0.8" stroke-linecap="butt"/>
<text x="413.1" y="386.84000000000003" font-size="3.4" fill="#ccc" text-anchor="end">1900</text>
<line x1="414.1" y1="394.91" x2="415.3" y2="394.91" stroke="#888" stroke-width="0.6" stroke-linecap="butt"/>
<line x1="413.3" y1="404.28000000000003" x2="415.3" y2="404.28000000000003" stroke="#999" stroke-width="0.8" stroke-linecap="butt"/>
<text x="413.1" y="405.58000000000004" font-size="3.4" fill="#ccc" text-anchor="end">1800</text>
<line x1="414.1" y1="413.65000000000003" x2="415.3" y2="413.65000000000003" stroke="#888" stroke-width="0.6" stroke-linecap="butt"/>
<line x1="413.3" y1="423.02" x2="415.3" y2="423.02" stroke="#999" stroke-width="0.8" stroke-linecap="butt"/>
<text x="413.1" y="424.32" font-size="3.4" fill="#ccc" text-anchor="end">1700</text>
<line x1="414.1" y1="432.39" x2="415.3" y2="432.39" stroke="#888" stroke-width="0.6" stroke-linecap="butt"/>
<line x1="413.3" y1="441.76" x2="415.3" y2="441.76" stroke="#999" stroke-width="0.8" stroke-linecap="butt"/>
<text x="413.1" y="443.06" font-size="3.4" fill="#ccc" text-anchor="end">1600</text>
<line x1="414.1" y1="451.13" x2="415.3" y2="451.13" stroke="#888" stroke-width="0.6" stroke-linecap="butt"/>
<line x1="413.3" y1="460.5" x2="415.3" y2="460.5" stroke="#999" stroke-width="0.8" stroke-linecap="butt"/>
<text x="413.1" y="461.8" font-size="3.4" fill="#ccc" text-anchor="end">1500</text>
<line x1="414.1" y1="469.87" x2="415.3" y2="469.87" stroke="#888" stroke-width="0.6" stroke-linecap="butt"/>
<line x1="413.3" y1="479.24" x2="415.3" y2="479.24" stroke="#999" stroke-width="0.8" stroke-linecap="butt"/>
<text x="413.1" y="480.54" font-size="3.4" fill="#ccc" text-anchor="end">1400</text>
<line x1="414.1" y1="488.61" x2="415.3" y2="488.61" stroke="#888" stroke-width="0.6" stroke-linecap="butt"/>
<line x1="413.3" y1="497.98" x2="415.3" y2="497.98" stroke="#999" stroke-width="0.8" stroke-linecap="butt"/>
<text x="413.1" y="499.28000000000003" font-size="3.4" fill="#ccc" text-anchor="end">1300</text>
<line x1="414.1" y1="507.35" x2="415.3" y2="507.35" stroke="#888" stroke-width="0.6" stroke-linecap="butt"/>
<line x1="413.3" y1="516.72" x2="415.3" y2="516.72" stroke="#999" stroke-width="0.8" stroke-linecap="butt"/>
<text x="413.1" y="518.02" font-size="3.4" fill="#ccc" text-anchor="end">1200</text>
<line x1="414.1" y1="526.09" x2="415.3" y2="526.09" stroke="#888" stroke-width="0.6" stroke-linecap="butt"/>
<line x1="413.3" y1="535.46" x2="415.3" y2="535.46" stroke="#999" stroke-width="0.8" stroke-linecap="butt"/>
<text x="413.1" y="536.76" font-size="3.4" fill="#ccc" text-anchor="end">1100</text>
<line x1="414.1" y1="544.83" x2="415.3" y2="544.83" stroke="#888" stroke-width="0.6" stroke-linecap="butt"/>
<line x1="413.3" y1="554.2" x2="415.3" y2="554.2" stroke="#999" stroke-width="0.8" stroke-linecap="butt"/>
<text x="413.1" y="555.5" font-size="3.4" fill="#ccc" text-anchor="end">1000</text>
<line x1="414.1" y1="563.57" x2="415.3" y2="563.57" stroke="#888" stroke-width="0.6" stroke-linecap="butt"/>
<line x1="413.3" y1="572.94" x2="415.3" y2="572.94" stroke="#999" stroke-width="0.8" stroke-linecap="butt"/>
<text x="413.1" y="574.24" font-size="3.4" fill="#ccc" text-anchor="end">900</text>
<line x1="414.1" y1="582.3100000000001" x2="415.3" y2="582.3100000000001" stroke="#888" stroke-width="0.6" stroke-linecap="butt"/>
<line x1="413.3" y1="591.6800000000001" x2="415.3" y2="591.6800000000001" stroke="#999" stroke-width="0.8" stroke-linecap="butt"/>
<text x="413.1" y="592.98" font-size="3.4" fill="#ccc" text-anchor="end">800</text>
<text x="404" y="364.6" font-size="3.2" fill="#ccc">Intensity</text>
<line x1="415.3" y1="607.2" x2="415.3" y2="609.2" stroke="#999" stroke-width="0.8" stroke-linecap="butt"/>
<text x="415.3" y="612.7" font-size="3.4" fill="#ccc" text-anchor="middle">0</text>
<line x1="427.05" y1="607.2" x2="427.05" y2="608.4000000000001" stroke="#888" stroke-width="0.6" stroke-linecap="butt"/>
<line x1="438.8" y1="607.2" x2="438.8" y2="609.2" stroke="#999" stroke-width="0.8" stroke-linecap="butt"/>
<text x="438.8" y="612.7" font-size="3.4" fill="#ccc" text-anchor="middle">10</text>
<line x1="450.55" y1="607.2" x2="450.55" y2="608.4000000000001" stroke="#888" stroke-width="0.6" stroke-linecap="butt"/>
<line x1="462.3" y1="607.2" x2="462.3" y2="609.2" stroke="#999" stroke-width="0.8" stroke-linecap="butt"/>
<text x="462.3" y="612.7" font-size="3.4" fill="#ccc" text-anchor="middle">20</text>
<line x1="474.05" y1="607.2" x2="474.05" y2="608.4000000000001" stroke="#888" stroke-width="0.6" stroke-linecap="butt"/>
<line x1="485.8" y1="607.2" x2="485.8" y2="609.2" stroke="#999" stroke-width="0.8" stroke-linecap="butt"/>
<text x="485.8" y="612.7" font-size="3.4" fill="#ccc" text-anchor="middle">30</text>
<line x1="497.55" y1="607.2" x2="497.55" y2="608.4000000000001" stroke="#888" stroke-width="0.6" stroke-linecap="butt"/>
<line x1="509.3" y1="607.2" x2="509.3" y2="609.2" stroke="#999" stroke-width="0.8" stroke-linecap="butt"/>
<text x="509.3" y="612.7" font-size="3.4" fill="#ccc" text-anchor="middle">40</text>
<line x1="521.05" y1="607.2" x2="521.05" y2="608.4000000000001" stroke="#888" stroke-width="0.6" stroke-linecap="butt"/>
<line x1="532.8" y1="607.2" x2="532.8" y2="609.2" stroke="#999" stroke-width="0.8" stroke-linecap="butt"/>
<text x="532.8" y="612.7" font-size="3.4" fill="#ccc" text-anchor="middle">50</text>
<line x1="544.55" y1="607.2" x2="544.55" y2="608.4000000000001" stroke="#888" stroke-width="0.6" stroke-linecap="butt"/>
<line x1="556.3" y1="607.2" x2="556.3" y2="609.2" stroke="#999" stroke-width="0.8" stroke-linecap="butt"/>
<text x="556.3" y="612.7" font-size="3.4" fill="#ccc" text-anchor="middle">60</text>
<line x1="568.05" y1="607.2" x2="568.05" y2="608.4000000000001" stroke="#888" stroke-width="0.6" stroke-linecap="butt"/>
<line x1="579.8" y1="607.2" x2="579.8" y2="609.2" stroke="#999" stroke-width="0.8" stroke-linecap="butt"/>
<text x="579.8" y="612.7" font-size="3.4" fill="#ccc" text-anchor="middle">70</text>
<line x1="591.55" y1="607.2" x2="591.55" y2="608.4000000000001" stroke="#888" stroke-width="0.6" stroke-linecap="butt"/>
<line x1="603.3" y1="607.2" x2="603.3" y2="609.2" stroke="#999" stroke-width="0.8" stroke-linecap="butt"/>
<text x="603.3" y="612.7" font-size="3.4" fill="#ccc" text-anchor="middle">80</text>
<line x1="615.05" y1="607.2" x2="615.05" y2="608.4000000000001" stroke="#888" stroke-width="0.6" stroke-linecap="butt"/>
<line x1="626.8" y1="607.2" x2="626.8" y2="609.2" stroke="#999" stroke-width="0.8" stroke-linecap="butt"/>
<text x="626.8" y="612.7" font-size="3.4" fill="#ccc" text-anchor="middle">90</text>
<line x1="638.55" y1="607.2" x2="638.55" y2="608.4000000000001" stroke="#888" stroke-width="0.6" stroke-linecap="butt"/>
<line x1="650.3" y1="607.2" x2="650.3" y2="609.2" stroke="#999" stroke-width="0.8" stroke-linecap="butt"/>
<text x="650.3" y="612.7" font-size="3.4" fill="#ccc" text-anchor="middle">100</text>
<line x1="662.05" y1="607.2" x2="662.05" y2="608.4000000000001" stroke="#888" stroke-width="0.6" stroke-linecap="butt"/>
<line x1="673.8" y1="607.2" x2="673.8" y2="609.2" stroke="#999" stroke-width="0.8" stroke-linecap="butt"/>
<text x="673.8" y="612.7" font-size="3.4" fill="#ccc" text-anchor="middle">110</text>
<line x1="685.55" y1="607.2" x2="685.55" y2="608.4000000000001" stroke="#888" stroke-width="0.6" stroke-linecap="butt"/>
<line x1="697.3" y1="607.2" x2="697.3" y2="609.2" stroke="#999" stroke-width="0.8" stroke-linecap="butt"/>
<text x="697.3" y="612.7" font-size="3.4" fill="#ccc" text-anchor="middle">120</text>
<text x="715.5" y="615.5" font-size="3.2" fill="#ccc" text-anchor="middle">[µm]</text>
<polyline points="415.3,568.8 422.9,568.8 430.5,569.7 438.1,568.8 445.7,567.8 453.3,567.8 460.9,565.0 468.5,558.8 476.1,556.0 483.7,549.1 491.3,549.1 498.9,543.0 506.5,536.9 514.1,536.9 521.7,531.0 529.3,531.0 536.9,527.3 544.5,526.4 552.1,529.0 559.7,530.6 567.3,530.5 574.9,532.5 582.5,534.5 590.1,535.6 597.7,538.3 605.3,538.3 612.9,542.8 620.5,545.5 628.1,550.0 635.7,557.3 643.3,557.3 650.9,565.6 658.5,569.3 666.1,573.9 673.7,574.9 681.3,574.9 688.9,573.9 696.5,572.8 704.1,571.8" fill="none" stroke="#00b000" stroke-width="1.8" stroke-linejoin="round"/>
<polyline points="415.3,575.5 422.9,575.5 430.5,572.6 438.1,571.1 445.7,568.8 453.3,567.2 460.9,564.0 468.5,559.2 476.1,555.4 483.7,545.8 491.3,545.8 498.9,532.1 506.5,518.5 514.1,513.8 521.7,504.8 529.3,504.8 536.9,501.5 544.5,501.5 552.1,502.3 559.7,504.8 567.3,504.9 574.9,509.0 582.5,511.3 590.1,518.6 597.7,526.2 605.3,526.2 612.9,537.2 620.5,542.2 628.1,552.1 635.7,562.5 643.3,562.5 650.9,570.8 658.5,575.3 666.1,580.0 673.7,581.5 681.3,581.5 688.9,580.7 696.5,579.5 704.1,576.6" fill="none" stroke="#c00000" stroke-width="1.8" stroke-linejoin="round"/>
<polyline points="415.3,591.3 422.9,591.3 430.5,573.5 438.1,561.1 445.7,540.5 453.3,540.5 460.9,520.0 468.5,495.1 476.1,473.7 483.7,447.0 491.3,447.0 498.9,423.7 506.5,414.6 514.1,419.4 521.7,440.4 529.3,440.4 536.9,472.8 544.5,501.9 552.1,509.1 559.7,502.5 567.3,502.5 574.9,467.5 582.5,445.3 590.1,404.2 597.7,371.0 605.3,371.0 612.9,366.3 620.5,380.8 628.1,413.6 635.7,464.0 643.3,464.0 650.9,519.0 658.5,544.9 666.1,574.9 673.7,598.7 681.3,598.7 688.9,607.6 696.5,607.0 704.1,604.3" fill="none" stroke="#0000b8" stroke-width="1.8" stroke-linejoin="round"/>
<line x1="639.7" y1="370.3" x2="657.3" y2="370.3" stroke="#c00010" stroke-width="2.2" stroke-linecap="butt"/>
<text x="659.8" y="375.40000000000003" font-size="12.2" fill="#c42020" stroke="#c42020" stroke-width="0.25">COX-IV</text>
<line x1="639.7" y1="385.2" x2="657.3" y2="385.2" stroke="#309040" stroke-width="1.2" stroke-linecap="butt"/>
<text x="659.8" y="390.3" font-size="12.2" fill="#309040" stroke="#309040" stroke-width="0.25">FLAG-tag</text>
<line x1="639.7" y1="400.6" x2="657.3" y2="400.6" stroke="#0000d0" stroke-width="2.2" stroke-linecap="butt"/>
<text x="659.8" y="405.70000000000005" font-size="12.2" fill="#0a10e0" stroke="#0a10e0" stroke-width="0.25">TOMM20</text>
<text x="742.7" y="348.8" font-size="24.5" text-anchor="start" font-weight="bold" fill="#000" stroke="#000" stroke-width="0.25">F</text>
<line x1="828.3" y1="394.8" x2="828.3" y2="572" stroke="#000" stroke-width="2.2" stroke-linecap="butt"/>
<line x1="824.8" y1="570.8" x2="829.4" y2="570.8" stroke="#000" stroke-width="2.2" stroke-linecap="butt"/>
<text x="821.8" y="576.4" font-size="17" text-anchor="end" font-weight="normal" fill="#111" stroke="#111" stroke-width="0.25">0.0</text>
<line x1="824.8" y1="527.1999999999999" x2="829.4" y2="527.1999999999999" stroke="#000" stroke-width="2.2" stroke-linecap="butt"/>
<text x="821.8" y="532.8" font-size="17" text-anchor="end" font-weight="normal" fill="#111" stroke="#111" stroke-width="0.25">0.5</text>
<line x1="824.8" y1="483.59999999999997" x2="829.4" y2="483.59999999999997" stroke="#000" stroke-width="2.2" stroke-linecap="butt"/>
<text x="821.8" y="489.2" font-size="17" text-anchor="end" font-weight="normal" fill="#111" stroke="#111" stroke-width="0.25">1.0</text>
<line x1="824.8" y1="439.99999999999994" x2="829.4" y2="439.99999999999994" stroke="#000" stroke-width="2.2" stroke-linecap="butt"/>
<text x="821.8" y="445.59999999999997" font-size="17" text-anchor="end" font-weight="normal" fill="#111" stroke="#111" stroke-width="0.25">1.5</text>
<line x1="824.8" y1="396.4" x2="829.4" y2="396.4" stroke="#000" stroke-width="2.2" stroke-linecap="butt"/>
<text x="821.8" y="402.0" font-size="17" text-anchor="end" font-weight="normal" fill="#111" stroke="#111" stroke-width="0.25">2.0</text>
<line x1="827.1999999999999" y1="571" x2="1106.5" y2="571" stroke="#000" stroke-width="2.2" stroke-linecap="butt"/>
<text x="828.3" y="591" font-size="17" text-anchor="middle" font-weight="normal" fill="#111" stroke="#111" stroke-width="0.25">0</text>
<line x1="883.6999999999999" y1="571" x2="883.6999999999999" y2="574.5" stroke="#000" stroke-width="2" stroke-linecap="butt"/>
<text x="883.6999999999999" y="591" font-size="17" text-anchor="middle" font-weight="normal" fill="#111" stroke="#111" stroke-width="0.25">1000</text>
<line x1="939.0999999999999" y1="571" x2="939.0999999999999" y2="574.5" stroke="#000" stroke-width="2" stroke-linecap="butt"/>
<text x="939.0999999999999" y="591" font-size="17" text-anchor="middle" font-weight="normal" fill="#111" stroke="#111" stroke-width="0.25">2000</text>
<line x1="994.5" y1="571" x2="994.5" y2="574.5" stroke="#000" stroke-width="2" stroke-linecap="butt"/>
<text x="994.5" y="591" font-size="17" text-anchor="middle" font-weight="normal" fill="#111" stroke="#111" stroke-width="0.25">3000</text>
<line x1="1049.8999999999999" y1="571" x2="1049.8999999999999" y2="574.5" stroke="#000" stroke-width="2" stroke-linecap="butt"/>
<text x="1049.8999999999999" y="591" font-size="17" text-anchor="middle" font-weight="normal" fill="#111" stroke="#111" stroke-width="0.25">4000</text>
<line x1="1105.3" y1="571" x2="1105.3" y2="574.5" stroke="#000" stroke-width="2" stroke-linecap="butt"/>
<text x="1105.3" y="591" font-size="17" text-anchor="middle" font-weight="normal" fill="#111" stroke="#111" stroke-width="0.25">5000</text>
<text x="966" y="611" font-size="17" text-anchor="middle" font-weight="normal" fill="#111" stroke="#111" stroke-width="0.25">nM</text>
<text x="767.4" y="483.3" font-size="17" text-anchor="middle" font-weight="normal" fill="#111" transform="rotate(-90 767.4 483.3)" stroke="#111" stroke-width="0.25">Riboflavin uptake</text>
<text x="788.9" y="480.9" font-size="17" text-anchor="middle" font-weight="normal" fill="#111" transform="rotate(-90 788.9 480.9)" stroke="#111" stroke-width="0.25">(pmol/mg/min)</text>
<polyline points="828.30,570.80 828.36,570.73 828.47,570.59 828.63,570.41 828.83,570.19 829.06,569.93 829.31,569.65 829.60,569.35 829.91,569.03 830.24,568.70 830.60,568.35 830.97,568.00 831.37,567.64 831.79,567.27 832.23,566.90 832.69,566.53 833.17,566.16 833.66,565.79 834.18,565.42 834.71,565.06 835.26,564.70 835.82,564.34 836.40,563.99 837.00,563.64 837.61,563.30 838.24,562.97 838.89,562.64 839.55,562.32 840.22,562.00 840.91,561.69 841.61,561.39 842.33,561.10 843.06,560.81 843.80,560.53 844.56,560.26 845.33,559.99 846.12,559.73 846.92,559.48 847.73,559.23 848.56,558.99 849.39,558.76 850.24,558.53 851.11,558.31 851.98,558.10 852.87,557.89 853.77,557.68 854.68,557.48 855.60,557.29 856.54,557.10 857.48,556.92 858.44,556.74 859.41,556.56 860.39,556.39 861.39,556.23 862.39,556.07 863.41,555.91 864.44,555.76 865.47,555.61 866.52,555.47 867.58,555.33 868.65,555.19 869.73,555.06 870.83,554.93 871.93,554.80 873.04,554.68 874.17,554.56 875.30,554.44 876.45,554.33 877.60,554.21 878.77,554.11 879.94,554.00 881.13,553.90 882.32,553.80 883.53,553.70 884.74,553.60 885.97,553.51 887.20,553.41 888.45,553.33 889.70,553.24 890.97,553.15 892.24,553.07 893.52,552.99 894.82,552.91 896.12,552.83 897.43,552.75 898.75,552.68 900.08,552.61 901.42,552.54 902.77,552.47 904.13,552.40 905.50,552.33 906.88,552.27 908.26,552.20 909.66,552.14 911.06,552.08 912.48,552.02 913.90,551.96 915.33,551.90 916.77,551.85 918.22,551.79 919.68,551.74 921.14,551.68 922.62,551.63 924.10,551.58 925.59,551.53 927.09,551.48 928.60,551.44 930.12,551.39 931.65,551.34 933.19,551.30 934.73,551.25 936.28,551.21 937.84,551.17 939.41,551.13 940.99,551.08 942.57,551.04 944.17,551.00 945.77,550.97 947.38,550.93 949.00,550.89 950.63,550.85 952.26,550.82 953.91,550.78 955.56,550.75 957.22,550.71 958.88,550.68 960.56,550.65 962.24,550.61 963.93,550.58 965.63,550.55 967.34,550.52 969.06,550.49 970.78,550.46 972.51,550.43 974.25,550.40 976.00,550.37 977.75,550.35 979.51,550.32 981.28,550.29 983.06,550.26 984.84,550.24 986.64,550.21 988.44,550.19 990.25,550.16 992.06,550.14 993.88,550.11 995.72,550.09 997.55,550.07 999.40,550.04 1001.25,550.02 1003.11,550.00 1004.98,549.98 1006.86,549.96 1008.74,549.93 1010.63,549.91 1012.53,549.89 1014.44,549.87 1016.35,549.85 1018.27,549.83 1020.20,549.81 1022.13,549.79 1024.07,549.77 1026.02,549.76 1027.98,549.74 1029.94,549.72 1031.91,549.70 1033.89,549.68 1035.88,549.67 1037.87,549.65 1039.87,549.63 1041.87,549.62 1043.89,549.60 1045.91,549.58 1047.94,549.57 1049.97,549.55 1052.01,549.54 1054.06,549.52 1056.12,549.50 1058.18,549.49 1060.25,549.47 1062.33,549.46 1064.41,549.45 1066.50,549.43 1068.60,549.42 1070.70,549.40 1072.82,549.39 1074.93,549.38 1077.06,549.36 1079.19,549.35 1081.33,549.34 1083.47,549.32 1085.63,549.31 1087.79,549.30 1089.95,549.29 1092.12,549.27 1094.30,549.26 1096.49,549.25 1098.68,549.24 1100.88,549.23 1103.09,549.22 1105.30,549.20" fill="none" stroke="#000" stroke-width="2.5"/>
<polyline points="828.30,570.80 828.36,570.65 828.47,570.35 828.63,569.95 828.83,569.46 829.06,568.89 829.31,568.26 829.60,567.57 829.91,566.83 830.24,566.05 830.60,565.22 830.97,564.36 831.37,563.47 831.79,562.55 832.23,561.61 832.69,560.64 833.17,559.66 833.66,558.66 834.18,557.64 834.71,556.62 835.26,555.59 835.82,554.55 836.40,553.51 837.00,552.47 837.61,551.42 838.24,550.38 838.89,549.33 839.55,548.29 840.22,547.26 840.91,546.22 841.61,545.20 842.33,544.18 843.06,543.17 843.80,542.17 844.56,541.18 845.33,540.19 846.12,539.22 846.92,538.26 847.73,537.31 848.56,536.37 849.39,535.44 850.24,534.52 851.11,533.62 851.98,532.73 852.87,531.85 853.77,530.98 854.68,530.12 855.60,529.28 856.54,528.45 857.48,527.63 858.44,526.83 859.41,526.04 860.39,525.26 861.39,524.49 862.39,523.73 863.41,522.99 864.44,522.26 865.47,521.54 866.52,520.83 867.58,520.14 868.65,519.46 869.73,518.78 870.83,518.12 871.93,517.47 873.04,516.83 874.17,516.21 875.30,515.59 876.45,514.98 877.60,514.39 878.77,513.80 879.94,513.23 881.13,512.66 882.32,512.10 883.53,511.56 884.74,511.02 885.97,510.49 887.20,509.97 888.45,509.46 889.70,508.96 890.97,508.47 892.24,507.98 893.52,507.51 894.82,507.04 896.12,506.58 897.43,506.13 898.75,505.68 900.08,505.25 901.42,504.82 902.77,504.39 904.13,503.98 905.50,503.57 906.88,503.17 908.26,502.77 909.66,502.39 911.06,502.00 912.48,501.63 913.90,501.26 915.33,500.90 916.77,500.54 918.22,500.19 919.68,499.84 921.14,499.50 922.62,499.17 924.10,498.84 925.59,498.51 927.09,498.19 928.60,497.88 930.12,497.57 931.65,497.27 933.19,496.97 934.73,496.67 936.28,496.38 937.84,496.10 939.41,495.82 940.99,495.54 942.57,495.27 944.17,495.00 945.77,494.74 947.38,494.48 949.00,494.22 950.63,493.97 952.26,493.72 953.91,493.48 955.56,493.23 957.22,493.00 958.88,492.76 960.56,492.53 962.24,492.31 963.93,492.08 965.63,491.86 967.34,491.64 969.06,491.43 970.78,491.22 972.51,491.01 974.25,490.81 976.00,490.60 977.75,490.40 979.51,490.21 981.28,490.01 983.06,489.82 984.84,489.63 986.64,489.45 988.44,489.26 990.25,489.08 992.06,488.91 993.88,488.73 995.72,488.56 997.55,488.39 999.40,488.22 1001.25,488.05 1003.11,487.89 1004.98,487.72 1006.86,487.56 1008.74,487.41 1010.63,487.25 1012.53,487.10 1014.44,486.94 1016.35,486.80 1018.27,486.65 1020.20,486.50 1022.13,486.36 1024.07,486.22 1026.02,486.07 1027.98,485.94 1029.94,485.80 1031.91,485.66 1033.89,485.53 1035.88,485.40 1037.87,485.27 1039.87,485.14 1041.87,485.01 1043.89,484.89 1045.91,484.76 1047.94,484.64 1049.97,484.52 1052.01,484.40 1054.06,484.28 1056.12,484.17 1058.18,484.05 1060.25,483.94 1062.33,483.83 1064.41,483.71 1066.50,483.60 1068.60,483.50 1070.70,483.39 1072.82,483.28 1074.93,483.18 1077.06,483.07 1079.19,482.97 1081.33,482.87 1083.47,482.77 1085.63,482.67 1087.79,482.57 1089.95,482.48 1092.12,482.38 1094.30,482.29 1096.49,482.19 1098.68,482.10 1100.88,482.01 1103.09,481.92 1105.30,481.83" fill="none" stroke="#951858" stroke-width="2.5"/>
<polyline points="828.30,570.80 828.36,570.63 828.47,570.29 828.63,569.82 828.83,569.26 829.06,568.61 829.31,567.88 829.60,567.08 829.91,566.22 830.24,565.31 830.60,564.34 830.97,563.32 831.37,562.27 831.79,561.17 832.23,560.04 832.69,558.88 833.17,557.69 833.66,556.48 834.18,555.24 834.71,553.99 835.26,552.71 835.82,551.42 836.40,550.12 837.00,548.81 837.61,547.49 838.24,546.16 838.89,544.83 839.55,543.49 840.22,542.15 840.91,540.81 841.61,539.46 842.33,538.13 843.06,536.79 843.80,535.46 844.56,534.13 845.33,532.80 846.12,531.49 846.92,530.18 847.73,528.87 848.56,527.58 849.39,526.30 850.24,525.02 851.11,523.76 851.98,522.50 852.87,521.26 853.77,520.03 854.68,518.81 855.60,517.60 856.54,516.40 857.48,515.22 858.44,514.04 859.41,512.89 860.39,511.74 861.39,510.61 862.39,509.49 863.41,508.38 864.44,507.29 865.47,506.21 866.52,505.14 867.58,504.09 868.65,503.05 869.73,502.02 870.83,501.00 871.93,500.00 873.04,499.02 874.17,498.04 875.30,497.08 876.45,496.13 877.60,495.20 878.77,494.27 879.94,493.36 881.13,492.46 882.32,491.58 883.53,490.70 884.74,489.84 885.97,488.99 887.20,488.15 888.45,487.33 889.70,486.51 890.97,485.71 892.24,484.92 893.52,484.14 894.82,483.37 896.12,482.61 897.43,481.86 898.75,481.13 900.08,480.40 901.42,479.68 902.77,478.98 904.13,478.28 905.50,477.59 906.88,476.92 908.26,476.25 909.66,475.59 911.06,474.94 912.48,474.30 913.90,473.67 915.33,473.05 916.77,472.44 918.22,471.83 919.68,471.24 921.14,470.65 922.62,470.07 924.10,469.50 925.59,468.94 927.09,468.38 928.60,467.84 930.12,467.30 931.65,466.76 933.19,466.24 934.73,465.72 936.28,465.21 937.84,464.71 939.41,464.21 940.99,463.72 942.57,463.24 944.17,462.76 945.77,462.29 947.38,461.82 949.00,461.37 950.63,460.92 952.26,460.47 953.91,460.03 955.56,459.60 957.22,459.17 958.88,458.75 960.56,458.33 962.24,457.92 963.93,457.51 965.63,457.11 967.34,456.72 969.06,456.33 970.78,455.94 972.51,455.56 974.25,455.19 976.00,454.82 977.75,454.45 979.51,454.09 981.28,453.74 983.06,453.38 984.84,453.04 986.64,452.69 988.44,452.36 990.25,452.02 992.06,451.69 993.88,451.37 995.72,451.04 997.55,450.73 999.40,450.41 1001.25,450.10 1003.11,449.80 1004.98,449.49 1006.86,449.19 1008.74,448.90 1010.63,448.61 1012.53,448.32 1014.44,448.03 1016.35,447.75 1018.27,447.47 1020.20,447.20 1022.13,446.93 1024.07,446.66 1026.02,446.40 1027.98,446.13 1029.94,445.87 1031.91,445.62 1033.89,445.37 1035.88,445.12 1037.87,444.87 1039.87,444.63 1041.87,444.38 1043.89,444.15 1045.91,443.91 1047.94,443.68 1049.97,443.45 1052.01,443.22 1054.06,442.99 1056.12,442.77 1058.18,442.55 1060.25,442.33 1062.33,442.12 1064.41,441.90 1066.50,441.69 1068.60,441.48 1070.70,441.28 1072.82,441.07 1074.93,440.87 1077.06,440.67 1079.19,440.47 1081.33,440.28 1083.47,440.09 1085.63,439.89 1087.79,439.71 1089.95,439.52 1092.12,439.33 1094.30,439.15 1096.49,438.97 1098.68,438.79 1100.88,438.61 1103.09,438.44 1105.30,438.26" fill="none" stroke="#0c1c90" stroke-width="2.5"/>
<line x1="831.0699999999999" y1="566.4399999999999" x2="831.0699999999999" y2="568.184" stroke="#000" stroke-width="2.2" stroke-linecap="butt"/>
<line x1="827.8699999999999" y1="566.4399999999999" x2="834.27" y2="566.4399999999999" stroke="#000" stroke-width="2.4" stroke-linecap="butt"/>
<line x1="827.8699999999999" y1="568.184" x2="834.27" y2="568.184" stroke="#000" stroke-width="2.4" stroke-linecap="butt"/>
<line x1="833.8399999999999" y1="564.6959999999999" x2="833.8399999999999" y2="566.4399999999999" stroke="#000" stroke-width="2.2" stroke-linecap="butt"/>
<line x1="830.6399999999999" y1="564.6959999999999" x2="837.04" y2="564.6959999999999" stroke="#000" stroke-width="2.4" stroke-linecap="butt"/>
<line x1="830.6399999999999" y1="566.4399999999999" x2="837.04" y2="566.4399999999999" stroke="#000" stroke-width="2.4" stroke-linecap="butt"/>
<line x1="839.38" y1="562.952" x2="839.38" y2="564.6959999999999" stroke="#000" stroke-width="2.2" stroke-linecap="butt"/>
<line x1="836.18" y1="562.952" x2="842.58" y2="562.952" stroke="#000" stroke-width="2.4" stroke-linecap="butt"/>
<line x1="836.18" y1="564.6959999999999" x2="842.58" y2="564.6959999999999" stroke="#000" stroke-width="2.4" stroke-linecap="butt"/>
<line x1="850.4599999999999" y1="558.156" x2="850.4599999999999" y2="564.26" stroke="#000" stroke-width="2.2" stroke-linecap="butt"/>
<line x1="847.2599999999999" y1="558.156" x2="853.66" y2="558.156" stroke="#000" stroke-width="2.4" stroke-linecap="butt"/>
<line x1="847.2599999999999" y1="564.26" x2="853.66" y2="564.26" stroke="#000" stroke-width="2.4" stroke-linecap="butt"/>
<line x1="883.6999999999999" y1="546.3839999999999" x2="883.6999999999999" y2="553.3599999999999" stroke="#000" stroke-width="2.2" stroke-linecap="butt"/>
<line x1="880.4999999999999" y1="546.3839999999999" x2="886.9" y2="546.3839999999999" stroke="#000" stroke-width="2.4" stroke-linecap="butt"/>
<line x1="880.4999999999999" y1="553.3599999999999" x2="886.9" y2="553.3599999999999" stroke="#000" stroke-width="2.4" stroke-linecap="butt"/>
<line x1="939.0999999999999" y1="549.0" x2="939.0999999999999" y2="550.7439999999999" stroke="#000" stroke-width="2.2" stroke-linecap="butt"/>
<line x1="935.8999999999999" y1="549.0" x2="942.3" y2="549.0" stroke="#000" stroke-width="2.4" stroke-linecap="butt"/>
<line x1="935.8999999999999" y1="550.7439999999999" x2="942.3" y2="550.7439999999999" stroke="#000" stroke-width="2.4" stroke-linecap="butt"/>
<line x1="1105.3" y1="549.4359999999999" x2="1105.3" y2="554.232" stroke="#000" stroke-width="2.2" stroke-linecap="butt"/>
<line x1="1102.1" y1="549.4359999999999" x2="1108.5" y2="549.4359999999999" stroke="#000" stroke-width="2.4" stroke-linecap="butt"/>
<line x1="1102.1" y1="554.232" x2="1108.5" y2="554.232" stroke="#000" stroke-width="2.4" stroke-linecap="butt"/>
<line x1="831.0699999999999" y1="562.0799999999999" x2="831.0699999999999" y2="566.4399999999999" stroke="#951858" stroke-width="2.2" stroke-linecap="butt"/>
<line x1="827.8699999999999" y1="562.0799999999999" x2="834.27" y2="562.0799999999999" stroke="#951858" stroke-width="2.4" stroke-linecap="butt"/>
<line x1="827.8699999999999" y1="566.4399999999999" x2="834.27" y2="566.4399999999999" stroke="#951858" stroke-width="2.4" stroke-linecap="butt"/>
<line x1="833.8399999999999" y1="556.848" x2="833.8399999999999" y2="562.0799999999999" stroke="#951858" stroke-width="2.2" stroke-linecap="butt"/>
<line x1="830.6399999999999" y1="556.848" x2="837.04" y2="556.848" stroke="#951858" stroke-width="2.4" stroke-linecap="butt"/>
<line x1="830.6399999999999" y1="562.0799999999999" x2="837.04" y2="562.0799999999999" stroke="#951858" stroke-width="2.4" stroke-linecap="butt"/>
<line x1="839.38" y1="551.616" x2="839.38" y2="556.848" stroke="#951858" stroke-width="2.2" stroke-linecap="butt"/>
<line x1="836.18" y1="551.616" x2="842.58" y2="551.616" stroke="#951858" stroke-width="2.4" stroke-linecap="butt"/>
<line x1="836.18" y1="556.848" x2="842.58" y2="556.848" stroke="#951858" stroke-width="2.4" stroke-linecap="butt"/>
<line x1="850.4599999999999" y1="535.048" x2="850.4599999999999" y2="538.536" stroke="#951858" stroke-width="2.2" stroke-linecap="butt"/>
<line x1="847.2599999999999" y1="535.048" x2="853.66" y2="535.048" stroke="#951858" stroke-width="2.4" stroke-linecap="butt"/>
<line x1="847.2599999999999" y1="538.536" x2="853.66" y2="538.536" stroke="#951858" stroke-width="2.4" stroke-linecap="butt"/>
<polygon points="848.11,527.45 848.67,528.78 850.11,528.90 849.01,529.84 849.34,531.25 848.11,530.49 846.88,531.25 847.21,529.84 846.11,528.90 847.55,528.78" fill="#1a1a1a" stroke="#1a1a1a" stroke-width="0.5" stroke-linejoin="round"/>
<polygon points="852.81,527.45 853.37,528.78 854.81,528.90 853.71,529.84 854.04,531.25 852.81,530.49 851.58,531.25 851.91,529.84 850.81,528.90 852.25,528.78" fill="#1a1a1a" stroke="#1a1a1a" stroke-width="0.5" stroke-linejoin="round"/>
<line x1="883.6999999999999" y1="501.03999999999996" x2="883.6999999999999" y2="514.992" stroke="#951858" stroke-width="2.2" stroke-linecap="butt"/>
<line x1="880.4999999999999" y1="501.03999999999996" x2="886.9" y2="501.03999999999996" stroke="#951858" stroke-width="2.4" stroke-linecap="butt"/>
<line x1="880.4999999999999" y1="514.992" x2="886.9" y2="514.992" stroke="#951858" stroke-width="2.4" stroke-linecap="butt"/>
<polygon points="879.00,493.44 879.56,494.78 881.00,494.89 879.90,495.83 880.23,497.24 879.00,496.48 877.77,497.24 878.10,495.83 877.00,494.89 878.44,494.78" fill="#1a1a1a" stroke="#1a1a1a" stroke-width="0.5" stroke-linejoin="round"/>
<polygon points="883.70,493.44 884.26,494.78 885.70,494.89 884.60,495.83 884.93,497.24 883.70,496.48 882.47,497.24 882.80,495.83 881.70,494.89 883.14,494.78" fill="#1a1a1a" stroke="#1a1a1a" stroke-width="0.5" stroke-linejoin="round"/>
<polygon points="888.40,493.44 888.96,494.78 890.40,494.89 889.30,495.83 889.63,497.24 888.40,496.48 887.17,497.24 887.50,495.83 886.40,494.89 887.84,494.78" fill="#1a1a1a" stroke="#1a1a1a" stroke-width="0.5" stroke-linejoin="round"/>
<line x1="939.0999999999999" y1="480.11199999999997" x2="939.0999999999999" y2="494.9359999999999" stroke="#951858" stroke-width="2.2" stroke-linecap="butt"/>
<line x1="935.8999999999999" y1="480.11199999999997" x2="942.3" y2="480.11199999999997" stroke="#951858" stroke-width="2.4" stroke-linecap="butt"/>
<line x1="935.8999999999999" y1="494.9359999999999" x2="942.3" y2="494.9359999999999" stroke="#951858" stroke-width="2.4" stroke-linecap="butt"/>
<polygon points="934.40,472.51 934.96,473.85 936.40,473.96 935.30,474.90 935.63,476.31 934.40,475.56 933.17,476.31 933.50,474.90 932.40,473.96 933.84,473.85" fill="#1a1a1a" stroke="#1a1a1a" stroke-width="0.5" stroke-linejoin="round"/>
<polygon points="939.10,472.51 939.66,473.85 941.10,473.96 940.00,474.90 940.33,476.31 939.10,475.56 937.87,476.31 938.20,474.90 937.10,473.96 938.54,473.85" fill="#1a1a1a" stroke="#1a1a1a" stroke-width="0.5" stroke-linejoin="round"/>
<polygon points="943.80,472.51 944.36,473.85 945.80,473.96 944.70,474.90 945.03,476.31 943.80,475.56 942.57,476.31 942.90,474.90 941.80,473.96 943.24,473.85" fill="#1a1a1a" stroke="#1a1a1a" stroke-width="0.5" stroke-linejoin="round"/>
<line x1="1105.3" y1="480.9839999999999" x2="1105.3" y2="494.06399999999996" stroke="#951858" stroke-width="2.2" stroke-linecap="butt"/>
<line x1="1102.1" y1="480.9839999999999" x2="1108.5" y2="480.9839999999999" stroke="#951858" stroke-width="2.4" stroke-linecap="butt"/>
<line x1="1102.1" y1="494.06399999999996" x2="1108.5" y2="494.06399999999996" stroke="#951858" stroke-width="2.4" stroke-linecap="butt"/>
<polygon points="1100.60,473.38 1101.16,474.72 1102.60,474.84 1101.50,475.78 1101.83,477.18 1100.60,476.43 1099.37,477.18 1099.70,475.78 1098.60,474.84 1100.04,474.72" fill="#1a1a1a" stroke="#1a1a1a" stroke-width="0.5" stroke-linejoin="round"/>
<polygon points="1105.30,473.38 1105.86,474.72 1107.30,474.84 1106.20,475.78 1106.53,477.18 1105.30,476.43 1104.07,477.18 1104.40,475.78 1103.30,474.84 1104.74,474.72" fill="#1a1a1a" stroke="#1a1a1a" stroke-width="0.5" stroke-linejoin="round"/>
<polygon points="1110.00,473.38 1110.56,474.72 1112.00,474.84 1110.90,475.78 1111.23,477.18 1110.00,476.43 1108.77,477.18 1109.10,475.78 1108.00,474.84 1109.44,474.72" fill="#1a1a1a" stroke="#1a1a1a" stroke-width="0.5" stroke-linejoin="round"/>
<line x1="831.0699999999999" y1="566.4399999999999" x2="831.0699999999999" y2="570.8" stroke="#0c1c90" stroke-width="2.2" stroke-linecap="butt"/>
<line x1="827.8699999999999" y1="566.4399999999999" x2="834.27" y2="566.4399999999999" stroke="#0c1c90" stroke-width="2.4" stroke-linecap="butt"/>
<line x1="827.8699999999999" y1="570.8" x2="834.27" y2="570.8" stroke="#0c1c90" stroke-width="2.4" stroke-linecap="butt"/>
<line x1="833.8399999999999" y1="553.3599999999999" x2="833.8399999999999" y2="557.7199999999999" stroke="#0c1c90" stroke-width="2.2" stroke-linecap="butt"/>
<line x1="830.6399999999999" y1="553.3599999999999" x2="837.04" y2="553.3599999999999" stroke="#0c1c90" stroke-width="2.4" stroke-linecap="butt"/>
<line x1="830.6399999999999" y1="557.7199999999999" x2="837.04" y2="557.7199999999999" stroke="#0c1c90" stroke-width="2.4" stroke-linecap="butt"/>
<line x1="839.38" y1="549.0" x2="839.38" y2="554.232" stroke="#0c1c90" stroke-width="2.2" stroke-linecap="butt"/>
<line x1="836.18" y1="549.0" x2="842.58" y2="549.0" stroke="#0c1c90" stroke-width="2.4" stroke-linecap="butt"/>
<line x1="836.18" y1="554.232" x2="842.58" y2="554.232" stroke="#0c1c90" stroke-width="2.4" stroke-linecap="butt"/>
<line x1="850.4599999999999" y1="518.4799999999999" x2="850.4599999999999" y2="526.328" stroke="#0c1c90" stroke-width="2.2" stroke-linecap="butt"/>
<line x1="847.2599999999999" y1="518.4799999999999" x2="853.66" y2="518.4799999999999" stroke="#0c1c90" stroke-width="2.4" stroke-linecap="butt"/>
<line x1="847.2599999999999" y1="526.328" x2="853.66" y2="526.328" stroke="#0c1c90" stroke-width="2.4" stroke-linecap="butt"/>
<polygon points="845.76,510.88 846.32,512.22 847.76,512.33 846.66,513.27 846.99,514.68 845.76,513.92 844.53,514.68 844.86,513.27 843.76,512.33 845.20,512.22" fill="#1a1a1a" stroke="#1a1a1a" stroke-width="0.5" stroke-linejoin="round"/>
<polygon points="850.46,510.88 851.02,512.22 852.46,512.33 851.36,513.27 851.69,514.68 850.46,513.92 849.23,514.68 849.56,513.27 848.46,512.33 849.90,512.22" fill="#1a1a1a" stroke="#1a1a1a" stroke-width="0.5" stroke-linejoin="round"/>
<polygon points="855.16,510.88 855.72,512.22 857.16,512.33 856.06,513.27 856.39,514.68 855.16,513.92 853.93,514.68 854.26,513.27 853.16,512.33 854.60,512.22" fill="#1a1a1a" stroke="#1a1a1a" stroke-width="0.5" stroke-linejoin="round"/>
<line x1="883.6999999999999" y1="480.9839999999999" x2="883.6999999999999" y2="492.31999999999994" stroke="#0c1c90" stroke-width="2.2" stroke-linecap="butt"/>
<line x1="880.4999999999999" y1="480.9839999999999" x2="886.9" y2="480.9839999999999" stroke="#0c1c90" stroke-width="2.4" stroke-linecap="butt"/>
<line x1="880.4999999999999" y1="492.31999999999994" x2="886.9" y2="492.31999999999994" stroke="#0c1c90" stroke-width="2.4" stroke-linecap="butt"/>
<polygon points="879.00,473.38 879.56,474.72 881.00,474.84 879.90,475.78 880.23,477.18 879.00,476.43 877.77,477.18 878.10,475.78 877.00,474.84 878.44,474.72" fill="#1a1a1a" stroke="#1a1a1a" stroke-width="0.5" stroke-linejoin="round"/>
<polygon points="883.70,473.38 884.26,474.72 885.70,474.84 884.60,475.78 884.93,477.18 883.70,476.43 882.47,477.18 882.80,475.78 881.70,474.84 883.14,474.72" fill="#1a1a1a" stroke="#1a1a1a" stroke-width="0.5" stroke-linejoin="round"/>
<polygon points="888.40,473.38 888.96,474.72 890.40,474.84 889.30,475.78 889.63,477.18 888.40,476.43 887.17,477.18 887.50,475.78 886.40,474.84 887.84,474.72" fill="#1a1a1a" stroke="#1a1a1a" stroke-width="0.5" stroke-linejoin="round"/>
<line x1="939.0999999999999" y1="446.97599999999994" x2="939.0999999999999" y2="456.5679999999999" stroke="#0c1c90" stroke-width="2.2" stroke-linecap="butt"/>
<line x1="935.8999999999999" y1="446.97599999999994" x2="942.3" y2="446.97599999999994" stroke="#0c1c90" stroke-width="2.4" stroke-linecap="butt"/>
<line x1="935.8999999999999" y1="456.5679999999999" x2="942.3" y2="456.5679999999999" stroke="#0c1c90" stroke-width="2.4" stroke-linecap="butt"/>
<polygon points="934.40,439.38 934.96,440.71 936.40,440.83 935.30,441.77 935.63,443.17 934.40,442.42 933.17,443.17 933.50,441.77 932.40,440.83 933.84,440.71" fill="#1a1a1a" stroke="#1a1a1a" stroke-width="0.5" stroke-linejoin="round"/>
<polygon points="939.10,439.38 939.66,440.71 941.10,440.83 940.00,441.77 940.33,443.17 939.10,442.42 937.87,443.17 938.20,441.77 937.10,440.83 938.54,440.71" fill="#1a1a1a" stroke="#1a1a1a" stroke-width="0.5" stroke-linejoin="round"/>
<polygon points="943.80,439.38 944.36,440.71 945.80,440.83 944.70,441.77 945.03,443.17 943.80,442.42 942.57,443.17 942.90,441.77 941.80,440.83 943.24,440.71" fill="#1a1a1a" stroke="#1a1a1a" stroke-width="0.5" stroke-linejoin="round"/>
<line x1="1105.3" y1="438.256" x2="1105.3" y2="454.82399999999996" stroke="#0c1c90" stroke-width="2.2" stroke-linecap="butt"/>
<line x1="1102.1" y1="438.256" x2="1108.5" y2="438.256" stroke="#0c1c90" stroke-width="2.4" stroke-linecap="butt"/>
<line x1="1102.1" y1="454.82399999999996" x2="1108.5" y2="454.82399999999996" stroke="#0c1c90" stroke-width="2.4" stroke-linecap="butt"/>
<polygon points="1100.60,430.66 1101.16,431.99 1102.60,432.11 1101.50,433.05 1101.83,434.45 1100.60,433.70 1099.37,434.45 1099.70,433.05 1098.60,432.11 1100.04,431.99" fill="#1a1a1a" stroke="#1a1a1a" stroke-width="0.5" stroke-linejoin="round"/>
<polygon points="1105.30,430.66 1105.86,431.99 1107.30,432.11 1106.20,433.05 1106.53,434.45 1105.30,433.70 1104.07,434.45 1104.40,433.05 1103.30,432.11 1104.74,431.99" fill="#1a1a1a" stroke="#1a1a1a" stroke-width="0.5" stroke-linejoin="round"/>
<polygon points="1110.00,430.66 1110.56,431.99 1112.00,432.11 1110.90,433.05 1111.23,434.45 1110.00,433.70 1108.77,434.45 1109.10,433.05 1108.00,432.11 1109.44,431.99" fill="#1a1a1a" stroke="#1a1a1a" stroke-width="0.5" stroke-linejoin="round"/>
<line x1="832.5" y1="396.6" x2="842.5" y2="396.6" stroke="#951858" stroke-width="2.0" stroke-linecap="butt"/>
<ellipse cx="837.5" cy="396.6" rx="3.2" ry="1.9" fill="#951858"/>
<text x="846.5" y="401.90000000000003" font-size="15" fill="#111" stroke="#111" stroke-width="0.25">HEK-h<tspan font-style="italic">SLC22A14</tspan></text>
<line x1="832.5" y1="413.9" x2="842.5" y2="413.9" stroke="#0c1c90" stroke-width="2.0" stroke-linecap="butt"/>
<ellipse cx="837.5" cy="413.9" rx="3.2" ry="1.9" fill="#0c1c90"/>
<text x="846.5" y="419.2" font-size="15" fill="#111" stroke="#111" stroke-width="0.25">HEK-m<tspan font-style="italic">Slc22a14</tspan></text>
<line x1="832.5" y1="431" x2="842.5" y2="431" stroke="#000" stroke-width="2.0" stroke-linecap="butt"/>
<ellipse cx="837.5" cy="431" rx="3.2" ry="1.9" fill="#000"/>
<text x="846.5" y="436.3" font-size="15" fill="#111" stroke="#111" stroke-width="0.25">HEK-EV</text>
</svg>
</body></html>
